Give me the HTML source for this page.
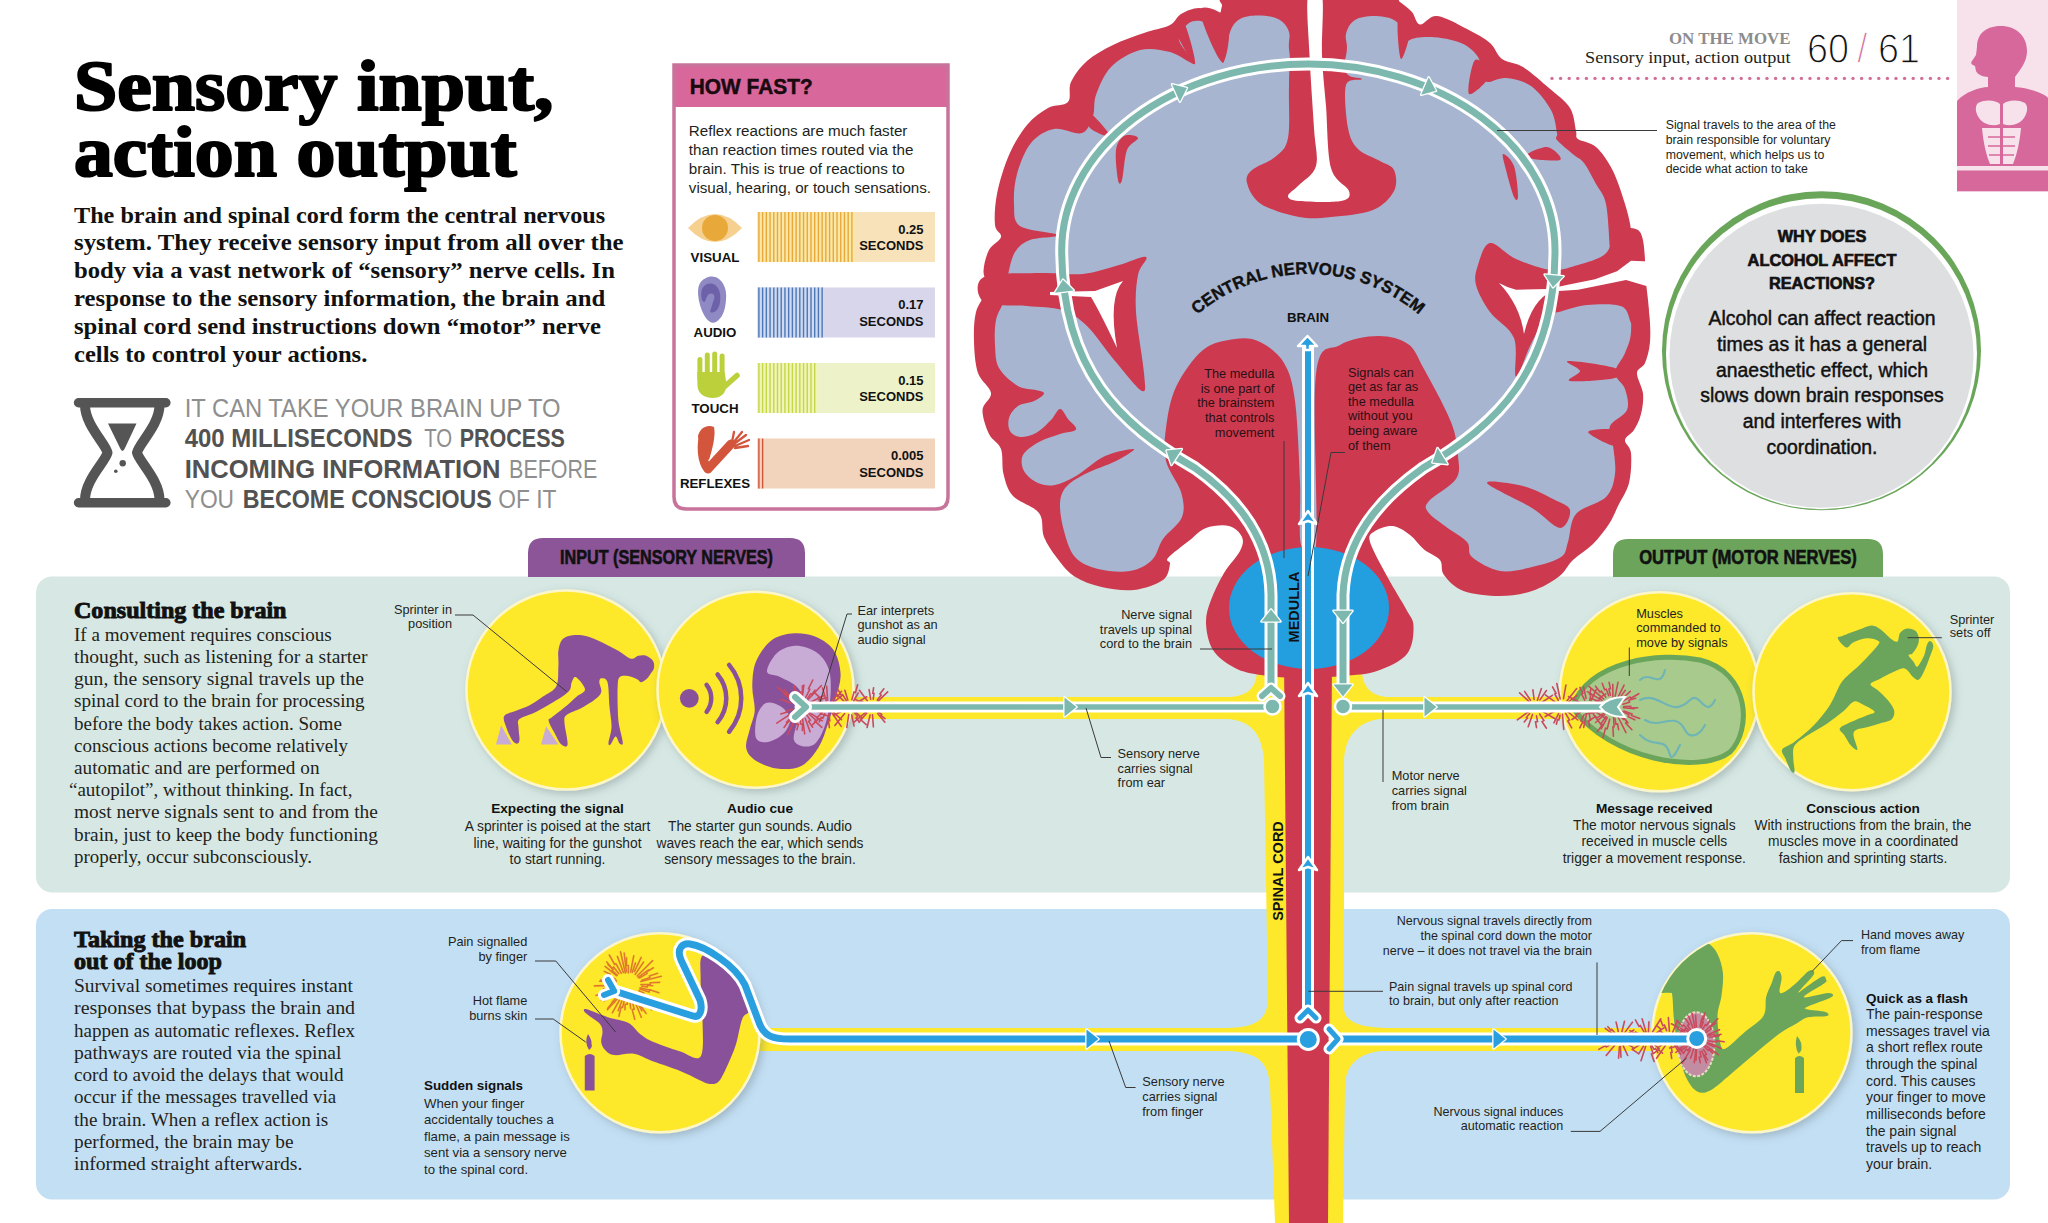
<!DOCTYPE html><html><head><meta charset="utf-8"><style>html,body{margin:0;padding:0;background:#fff;overflow:hidden;width:2048px;height:1223px}svg{display:block}</style></head><body><svg width="2048" height="1223" viewBox="0 0 2048 1223"><rect x="36" y="576.5" width="1974" height="316" rx="16" fill="#d7e8e4"/>
<rect x="36" y="909" width="1974" height="290.5" rx="16" fill="#c3dff4"/>
<path d="M528,577 V553 Q528,538 543,538 H790 Q805,538 805,553 V577 Z" fill="#8b5597"/>
<path d="M1613,577 V554 Q1613,539 1628,539 H1868 Q1883,539 1883,554 V577 Z" fill="#6ba45a"/>
<path d="M1226,697 C1245,697 1256,690 1257,672 L1362,672 C1363,690 1375,697 1390,697 L1612,697 L1612,719 L1380,719 C1360,721 1345,735 1344,760 L1344,1010 C1346,1022 1360,1028 1390,1028 L1700,1028 L1700,1051 L1380,1051 C1358,1054 1346,1065 1345,1085 L1343,1223 L1275,1223 L1270,1085 C1268,1062 1258,1053 1230,1051 L760,1051 L760,1028 L1225,1028 C1255,1028 1267,1020 1268,1000 L1264,760 C1262,735 1252,720 1226,719 L800,719 L800,697 Z" fill="#fde82b"/>
<path d="M1284,660 L1332,660 L1328,1223 L1289,1223 Z" fill="#cd3a4f"/>
<path d="M1340.0,-5.0 C1330.8,-5.0 1318.0,-5.3 1299.0,-5.0 C1280.0,-4.7 1238.8,-4.8 1226.0,-3.0 C1213.2,-1.2 1223.3,3.2 1222.0,6.0 C1220.7,8.8 1221.8,13.7 1218.0,14.0 C1214.2,14.3 1205.2,8.0 1199.0,8.0 C1192.8,8.0 1185.8,11.2 1181.0,14.0 C1176.2,16.8 1176.2,21.8 1170.0,25.0 C1163.8,28.2 1153.5,29.7 1144.0,33.0 C1134.5,36.3 1122.5,40.3 1113.0,45.0 C1103.5,49.7 1094.0,54.8 1087.0,61.0 C1080.0,67.2 1074.2,75.2 1071.0,82.0 C1067.8,88.8 1071.8,97.7 1068.0,102.0 C1064.2,106.3 1054.8,104.2 1048.0,108.0 C1041.2,111.8 1033.5,117.2 1027.0,125.0 C1020.5,132.8 1014.0,143.5 1009.0,155.0 C1004.0,166.5 999.3,182.3 997.0,194.0 C994.7,205.7 994.3,217.8 995.0,225.0 C995.7,232.2 1002.0,232.8 1001.0,237.0 C1000.0,241.2 991.9,244.3 989.0,250.0 C986.1,255.7 983.8,264.5 983.5,271.0 C983.2,277.5 988.2,282.2 987.0,289.0 C985.8,295.8 978.2,303.2 976.0,312.0 C973.8,320.8 973.7,331.8 974.0,342.0 C974.3,352.2 975.2,364.5 978.0,373.0 C980.8,381.5 990.2,386.8 991.0,393.0 C991.8,399.2 982.8,403.2 982.5,410.0 C982.2,416.8 985.9,427.5 989.0,434.0 C992.1,440.5 998.6,442.3 1001.0,449.0 C1003.4,455.7 1001.5,466.2 1003.5,474.0 C1005.5,481.8 1007.1,489.5 1013.0,496.0 C1018.9,502.5 1033.8,506.2 1039.0,513.0 C1044.2,519.8 1041.0,529.5 1044.0,537.0 C1047.0,544.5 1051.9,551.4 1057.0,558.0 C1062.1,564.6 1067.1,571.7 1074.5,576.5 C1081.9,581.3 1091.6,584.8 1101.5,587.0 C1111.4,589.2 1123.8,591.2 1134.0,590.0 C1144.2,588.8 1157.0,584.3 1163.0,580.0 C1169.0,575.7 1169.2,567.7 1170.0,564.0 C1170.8,560.3 1164.7,562.0 1168.0,558.0 C1171.3,554.0 1183.7,545.0 1190.0,540.0 C1196.3,535.0 1199.5,530.3 1206.0,528.0 C1212.5,525.7 1223.0,524.5 1229.0,526.0 C1235.0,527.5 1240.2,532.8 1242.0,537.0 C1243.8,541.2 1243.0,545.0 1240.0,551.0 C1237.0,557.0 1228.8,564.8 1224.0,573.0 C1219.2,581.2 1214.0,591.7 1211.0,600.0 C1208.0,608.3 1205.7,614.7 1206.0,623.0 C1206.3,631.3 1208.2,642.5 1213.0,650.0 C1217.8,657.5 1227.0,663.8 1235.0,668.0 C1243.0,672.2 1250.2,673.3 1261.0,675.0 C1271.8,676.7 1286.3,677.8 1300.0,678.0 C1313.7,678.2 1330.2,677.2 1343.0,676.0 C1355.8,674.8 1366.3,674.7 1377.0,671.0 C1387.7,667.3 1400.9,661.5 1407.0,654.0 C1413.1,646.5 1413.7,633.5 1413.5,626.0 C1413.3,618.5 1410.2,617.0 1406.0,609.0 C1401.8,601.0 1394.0,589.2 1388.0,578.0 C1382.0,566.8 1372.2,549.8 1370.0,542.0 C1367.8,534.2 1371.2,533.7 1375.0,531.0 C1378.8,528.3 1387.2,525.3 1393.0,526.0 C1398.8,526.7 1404.8,531.1 1410.0,535.0 C1415.2,538.9 1419.0,545.3 1424.0,549.5 C1429.0,553.7 1436.7,555.8 1440.0,560.0 C1443.3,564.2 1440.1,569.8 1444.0,575.0 C1447.9,580.2 1454.2,587.5 1463.5,591.0 C1472.8,594.5 1488.1,596.0 1499.5,596.0 C1510.9,596.0 1522.1,594.2 1532.0,591.0 C1541.9,587.8 1552.2,581.7 1559.0,576.5 C1565.8,571.3 1567.3,565.4 1573.0,560.0 C1578.7,554.6 1587.0,550.0 1593.0,544.0 C1599.0,538.0 1604.8,530.3 1609.0,524.0 C1613.2,517.7 1614.7,512.8 1618.0,506.0 C1621.3,499.2 1626.8,491.8 1629.0,483.0 C1631.2,474.2 1631.7,460.2 1631.0,453.0 C1630.3,445.8 1624.5,443.8 1625.0,440.0 C1625.5,436.2 1631.3,434.3 1634.0,430.0 C1636.7,425.7 1639.5,420.1 1641.0,414.0 C1642.5,407.9 1643.7,400.3 1643.0,393.5 C1642.3,386.7 1636.7,378.1 1637.0,373.0 C1637.3,367.9 1642.8,368.2 1645.0,363.0 C1647.2,357.8 1649.3,350.5 1650.0,342.0 C1650.7,333.5 1650.2,320.8 1649.0,312.0 C1647.8,303.2 1646.0,294.2 1643.0,289.0 C1640.0,283.8 1635.7,282.7 1631.0,281.0 C1626.3,279.3 1616.7,280.7 1615.0,279.0 C1613.3,277.3 1618.7,276.5 1621.0,271.0 C1623.3,265.5 1627.3,252.8 1629.0,246.0 C1630.7,239.2 1631.7,237.0 1631.0,230.0 C1630.3,223.0 1628.1,214.0 1625.0,204.0 C1621.9,194.0 1617.3,179.5 1612.5,170.0 C1607.7,160.5 1601.8,152.2 1596.0,147.0 C1590.2,141.8 1581.3,141.7 1578.0,139.0 C1574.7,136.3 1577.3,136.2 1576.0,131.0 C1574.7,125.8 1574.5,115.2 1570.0,108.0 C1565.5,100.8 1556.8,94.8 1549.0,88.0 C1541.2,81.2 1530.8,71.8 1523.0,67.0 C1515.2,62.2 1507.5,63.0 1502.0,59.0 C1496.5,55.0 1495.8,48.0 1490.0,43.0 C1484.2,38.0 1475.8,33.5 1467.0,29.0 C1458.2,24.5 1444.8,16.8 1437.0,16.0 C1429.2,15.2 1424.2,25.2 1420.0,24.5 C1415.8,23.8 1415.3,15.8 1412.0,12.0 C1408.7,8.2 1403.0,4.5 1400.0,2.0 C1397.0,-0.5 1401.7,-1.8 1394.0,-3.0 C1386.3,-4.2 1363.0,-4.7 1354.0,-5.0 C1345.0,-5.3 1349.2,-5.0 1340.0,-5.0Z" fill="#cd3a4f"/>
<path d="M1318.0,140.0 C1309.0,140.0 1295.8,78.0 1291.0,60.0 C1286.2,42.0 1291.2,38.8 1289.0,32.0 C1286.8,25.2 1283.2,21.8 1278.0,19.0 C1272.8,16.2 1264.3,15.5 1258.0,15.5 C1251.7,15.5 1244.7,16.2 1240.0,19.0 C1235.3,21.8 1232.8,24.7 1230.0,32.0 C1227.2,39.3 1225.3,62.7 1223.0,63.0 C1220.7,63.3 1219.2,40.8 1216.0,34.0 C1212.8,27.2 1208.5,23.8 1204.0,22.0 C1199.5,20.2 1193.2,20.0 1189.0,23.0 C1184.8,26.0 1178.0,33.2 1179.0,40.0 C1180.0,46.8 1196.5,62.0 1195.0,64.0 C1193.5,66.0 1179.2,54.3 1170.0,52.0 C1160.8,49.7 1149.8,47.5 1140.0,50.0 C1130.2,52.5 1118.3,59.5 1111.0,67.0 C1103.7,74.5 1099.0,86.8 1096.0,95.0 C1093.0,103.2 1095.3,109.7 1093.0,116.0 C1090.7,122.3 1088.5,130.8 1082.0,133.0 C1075.5,135.2 1062.5,127.3 1054.0,129.0 C1045.5,130.7 1037.2,135.5 1031.0,143.0 C1024.8,150.5 1019.8,163.8 1017.0,174.0 C1014.2,184.2 1013.5,195.3 1014.0,204.0 C1014.5,212.7 1012.7,220.8 1020.0,226.0 C1027.3,231.2 1056.3,232.7 1058.0,235.0 C1059.7,237.3 1037.2,237.2 1030.0,240.0 C1022.8,242.8 1018.7,246.2 1015.0,252.0 C1011.3,257.8 1009.8,267.0 1008.0,275.0 C1006.2,283.0 1006.0,292.5 1004.0,300.0 C1002.0,307.5 997.5,312.5 996.0,320.0 C994.5,327.5 994.5,337.0 995.0,345.0 C995.5,353.0 995.2,361.2 999.0,368.0 C1002.8,374.8 1011.8,382.3 1018.0,386.0 C1024.2,389.7 1031.7,388.8 1036.0,390.0 C1040.3,391.2 1044.3,391.6 1044.0,393.4 C1043.7,395.2 1038.3,398.9 1034.0,401.0 C1029.7,403.1 1022.2,403.2 1018.0,406.0 C1013.8,408.8 1010.3,413.8 1009.0,418.0 C1007.7,422.2 1008.2,427.8 1010.0,431.0 C1011.8,434.2 1015.7,436.7 1020.0,437.0 C1024.3,437.3 1030.8,435.8 1036.0,433.0 C1041.2,430.2 1047.0,424.0 1051.0,420.0 C1055.0,416.0 1057.2,409.2 1060.0,409.0 C1062.8,408.8 1065.3,415.6 1068.0,419.0 C1070.7,422.4 1077.3,427.0 1076.0,429.5 C1074.7,432.0 1066.2,431.9 1060.0,434.0 C1053.8,436.1 1045.2,438.5 1039.0,442.0 C1032.8,445.5 1025.5,450.2 1023.0,455.0 C1020.5,459.8 1021.5,466.3 1024.0,471.0 C1026.5,475.7 1032.8,480.7 1038.0,483.0 C1043.2,485.3 1048.7,486.2 1055.0,485.0 C1061.3,483.8 1067.7,480.8 1076.0,476.0 C1084.3,471.2 1095.3,460.5 1105.0,456.0 C1114.7,451.5 1132.2,448.2 1134.0,449.0 C1135.8,449.8 1124.2,456.8 1116.0,461.0 C1107.8,465.2 1093.3,469.7 1085.0,474.0 C1076.7,478.3 1070.2,482.0 1066.0,487.0 C1061.8,492.0 1060.3,496.7 1060.0,504.0 C1059.7,511.3 1061.5,522.2 1064.0,531.0 C1066.5,539.8 1069.3,550.7 1075.0,557.0 C1080.7,563.3 1088.8,566.7 1098.0,569.0 C1107.2,571.3 1121.0,572.5 1130.0,571.0 C1139.0,569.5 1146.5,565.3 1152.0,560.0 C1157.5,554.7 1158.0,546.2 1163.0,539.0 C1168.0,531.8 1179.0,524.8 1182.0,517.0 C1185.0,509.2 1183.7,501.3 1181.0,492.0 C1178.3,482.7 1168.5,471.7 1166.0,461.0 C1163.5,450.3 1164.3,440.3 1166.0,428.0 C1167.7,415.7 1169.8,400.0 1176.0,387.0 C1182.2,374.0 1193.2,358.0 1203.0,350.0 C1212.8,342.0 1225.5,340.3 1235.0,339.0 C1244.5,337.7 1251.8,338.0 1260.0,342.0 C1268.2,346.0 1278.2,353.2 1284.0,363.0 C1289.8,372.8 1292.3,381.2 1295.0,401.0 C1297.7,420.8 1299.0,458.0 1300.0,482.0 C1301.0,506.0 1298.3,534.5 1301.0,545.0 C1303.7,555.5 1313.5,573.5 1316.0,545.0 C1318.5,516.5 1312.0,407.3 1316.0,374.0 C1320.0,340.7 1329.7,351.3 1340.0,345.0 C1350.3,338.7 1366.7,336.2 1378.0,336.0 C1389.3,335.8 1400.3,338.5 1408.0,344.0 C1415.7,349.5 1416.8,356.0 1424.0,369.0 C1431.2,382.0 1445.3,407.5 1451.0,422.0 C1456.7,436.5 1457.2,446.5 1458.0,456.0 C1458.8,465.5 1460.8,471.5 1456.0,479.0 C1451.2,486.5 1433.7,495.5 1429.0,501.0 C1424.3,506.5 1425.3,507.8 1428.0,512.0 C1430.7,516.2 1438.5,521.0 1445.0,526.0 C1451.5,531.0 1462.5,536.8 1467.0,542.0 C1471.5,547.2 1466.5,552.2 1472.0,557.0 C1477.5,561.8 1490.0,569.3 1500.0,571.0 C1510.0,572.7 1521.8,569.3 1532.0,567.0 C1542.2,564.7 1555.0,561.2 1561.0,557.0 C1567.0,552.8 1565.5,549.2 1568.0,542.0 C1570.5,534.8 1569.7,521.5 1576.0,514.0 C1582.3,506.5 1599.5,503.7 1606.0,497.0 C1612.5,490.3 1613.8,482.7 1615.0,474.0 C1616.2,465.3 1613.8,453.0 1613.0,445.0 C1612.2,437.0 1607.7,431.8 1610.0,426.0 C1612.3,420.2 1624.5,416.2 1627.0,410.0 C1629.5,403.8 1627.0,395.2 1625.0,389.0 C1623.0,382.8 1615.0,379.0 1615.0,373.0 C1615.0,367.0 1622.3,359.8 1625.0,353.0 C1627.7,346.2 1630.5,340.8 1631.0,332.0 C1631.5,323.2 1631.2,310.3 1628.0,300.0 C1624.8,289.7 1615.0,278.3 1612.0,270.0 C1609.0,261.7 1611.0,261.0 1610.0,250.0 C1609.0,239.0 1608.3,215.0 1606.0,204.0 C1603.7,193.0 1599.7,190.8 1596.0,184.0 C1592.3,177.2 1587.7,167.8 1584.0,163.0 C1580.3,158.2 1578.5,158.8 1574.0,155.0 C1569.5,151.2 1559.8,143.7 1557.0,140.0 C1554.2,136.3 1558.0,138.0 1557.0,133.0 C1556.0,128.0 1555.3,117.8 1551.0,110.0 C1546.7,102.2 1538.5,91.3 1531.0,86.0 C1523.5,80.7 1513.2,78.7 1506.0,78.0 C1498.8,77.3 1492.0,82.3 1488.0,82.0 C1484.0,81.7 1483.7,80.2 1482.0,76.0 C1480.3,71.8 1481.5,62.5 1478.0,57.0 C1474.5,51.5 1468.8,46.3 1461.0,43.0 C1453.2,39.7 1439.8,37.3 1431.0,37.0 C1422.2,36.7 1413.0,37.3 1408.0,41.0 C1403.0,44.7 1401.7,60.2 1401.0,59.0 C1400.3,57.8 1405.2,40.5 1404.0,34.0 C1402.8,27.5 1399.0,23.0 1394.0,20.0 C1389.0,17.0 1380.5,16.0 1374.0,16.0 C1367.5,16.0 1359.7,17.0 1355.0,20.0 C1350.3,23.0 1347.7,27.3 1346.0,34.0 C1344.3,40.7 1349.7,42.3 1345.0,60.0 C1340.3,77.7 1327.0,140.0 1318.0,140.0Z" fill="#a7b5d0"/>
<path d="M1326.0,-5.0 C1317.8,-5.0 1296.8,-9.3 1291.0,-5.0 C1285.2,-0.7 1291.3,6.0 1291.0,21.0 C1290.7,36.0 1289.5,65.5 1289.0,85.0 C1288.5,104.5 1290.3,126.0 1288.0,138.0 C1285.7,150.0 1281.0,151.7 1275.0,157.0 C1269.0,162.3 1256.7,165.7 1252.0,170.0 C1247.3,174.3 1245.5,177.3 1247.0,183.0 C1248.5,188.7 1252.3,198.3 1261.0,204.0 C1269.7,209.7 1287.3,214.8 1299.0,217.0 C1310.7,219.2 1318.7,218.2 1331.0,217.0 C1343.3,215.8 1362.5,214.3 1373.0,210.0 C1383.5,205.7 1390.5,197.7 1394.0,191.0 C1397.5,184.3 1396.3,175.0 1394.0,170.0 C1391.7,165.0 1386.0,164.5 1380.0,161.0 C1374.0,157.5 1363.3,154.5 1358.0,149.0 C1352.7,143.5 1350.0,138.7 1348.0,128.0 C1346.0,117.3 1343.7,93.2 1346.0,85.0 C1348.3,76.8 1362.0,81.2 1362.0,79.0 C1362.0,76.8 1348.8,79.8 1346.0,72.0 C1343.2,64.2 1346.0,44.8 1345.0,32.0 C1344.0,19.2 1343.2,1.2 1340.0,-5.0 C1336.8,-11.2 1334.2,-5.0 1326.0,-5.0Z" fill="#cd3a4f"/>
<path d="M1308.0,-5.0 C1305.9,5.0 1308.5,32.8 1309.5,55.0 C1310.5,77.2 1312.9,109.5 1314.0,128.0 C1315.1,146.5 1318.5,156.5 1316.0,166.0 C1313.5,175.5 1303.7,180.0 1299.0,185.0 C1294.3,190.0 1288.0,193.3 1288.0,196.0 C1288.0,198.7 1290.2,200.2 1299.0,201.0 C1307.8,201.8 1332.7,202.7 1341.0,201.0 C1349.3,199.3 1350.7,196.5 1349.0,191.0 C1347.3,185.5 1334.8,182.2 1331.0,168.0 C1327.2,153.8 1327.5,124.8 1326.0,106.0 C1324.5,87.2 1322.7,73.5 1322.0,55.0 C1321.3,36.5 1324.3,5.0 1322.0,-5.0 C1319.7,-15.0 1310.1,-15.0 1308.0,-5.0Z" fill="#fff"/>
<path d="M984.0,277.0 C993.7,272.2 1025.5,273.5 1042.0,273.0 C1058.5,272.5 1070.2,275.3 1083.0,274.0 C1095.8,272.7 1108.5,267.8 1119.0,265.0 C1129.5,262.2 1142.8,255.3 1146.0,257.0 C1149.2,258.7 1139.7,265.8 1138.0,275.0 C1136.3,284.2 1135.0,295.7 1136.0,312.0 C1137.0,328.3 1143.0,359.8 1144.0,373.0 C1145.0,386.2 1146.8,393.0 1142.0,391.0 C1137.2,389.0 1124.2,371.8 1115.0,361.0 C1105.8,350.2 1095.8,334.5 1087.0,326.0 C1078.2,317.5 1072.0,313.3 1062.0,310.0 C1052.0,306.7 1040.0,307.3 1027.0,306.0 C1014.0,304.7 991.2,306.8 984.0,302.0 C976.8,297.2 974.3,281.8 984.0,277.0Z" fill="#cd3a4f"/>
<path d="M1050,292 L1095,291 L1123,281 Q1108,298 1117,348 Q1100,312 1091,297 L1050,295 Z" fill="#fff"/>
<path d="M1640.0,232.0 C1634.2,223.7 1615.7,230.7 1611.0,232.0 C1606.3,233.3 1613.2,236.2 1612.0,240.0 C1610.8,243.8 1609.7,250.8 1604.0,255.0 C1598.3,259.2 1586.8,262.5 1578.0,265.0 C1569.2,267.5 1561.3,271.0 1551.0,270.0 C1540.7,269.0 1526.2,263.5 1516.0,259.0 C1505.8,254.5 1496.3,242.0 1490.0,243.0 C1483.7,244.0 1480.3,258.0 1478.0,265.0 C1475.7,272.0 1474.0,277.2 1476.0,285.0 C1478.0,292.8 1483.7,303.2 1490.0,312.0 C1496.3,320.8 1509.7,327.2 1514.0,338.0 C1518.3,348.8 1513.2,376.0 1516.0,377.0 C1518.8,378.0 1525.8,354.2 1531.0,344.0 C1536.2,333.8 1542.3,321.3 1547.0,316.0 C1551.7,310.7 1552.3,313.8 1559.0,312.0 C1565.7,310.2 1576.5,305.9 1587.0,305.0 C1597.5,304.1 1614.3,303.2 1622.0,306.5 C1629.7,309.8 1628.7,323.1 1633.0,325.0 C1637.3,326.9 1645.8,325.2 1648.0,318.0 C1650.2,310.8 1647.3,296.3 1646.0,282.0 C1644.7,267.7 1645.8,240.3 1640.0,232.0Z" fill="#cd3a4f"/>
<path d="M1499,283 Q1508,288 1516,289.8 L1548,289 L1569,284.5 L1595,279.2 L1617,271.3 L1631,260.8 L1660,262 L1660,290 L1626,280 L1604,284.5 L1578,289.8 L1551.5,291.5 Q1532,300 1524,334 Q1520,305 1499,283 Z" fill="#fff"/>
<path d="M1124.0,136.0 C1127.7,134.0 1137.5,135.7 1138.0,138.0 C1138.5,140.3 1129.7,143.0 1127.0,150.0 C1124.3,157.0 1123.5,175.0 1122.0,180.0 C1120.5,185.0 1119.0,185.0 1118.0,180.0 C1117.0,175.0 1115.0,157.3 1116.0,150.0 C1117.0,142.7 1120.3,138.0 1124.0,136.0Z" fill="#cd3a4f"/>
<path d="M1503.0,154.0 C1504.3,153.3 1511.5,159.0 1514.0,166.0 C1516.5,173.0 1518.0,190.8 1518.0,196.0 C1518.0,201.2 1516.0,201.3 1514.0,197.0 C1512.0,192.7 1507.8,177.2 1506.0,170.0 C1504.2,162.8 1501.7,154.7 1503.0,154.0Z" fill="#cd3a4f"/>
<path d="M1560.0,528.0 C1553.7,527.7 1544.2,515.5 1532.0,508.0 C1519.8,500.5 1488.5,486.7 1487.0,483.0 C1485.5,479.3 1512.0,483.3 1523.0,486.0 C1534.0,488.7 1545.2,495.0 1553.0,499.0 C1560.8,503.0 1568.8,505.2 1570.0,510.0 C1571.2,514.8 1566.3,528.3 1560.0,528.0Z" fill="#cd3a4f"/>
<path d="M1615.0,368.0 C1607.2,365.2 1573.8,360.5 1568.0,361.0 C1562.2,361.5 1579.7,367.7 1580.0,371.0 C1580.3,374.3 1564.2,379.8 1570.0,381.0 C1575.8,382.2 1607.5,380.2 1615.0,378.0 C1622.5,375.8 1622.8,370.8 1615.0,368.0Z" fill="#cd3a4f"/>
<path d="M1615.0,430.0 C1610.5,427.7 1588.0,429.3 1588.0,432.0 C1588.0,434.7 1610.5,446.3 1615.0,446.0 C1619.5,445.7 1619.5,432.3 1615.0,430.0Z" fill="#cd3a4f"/>
<path d="M1200.0,10.0 C1199.0,17.0 1217.3,60.3 1222.0,62.0 C1226.7,63.7 1231.7,28.7 1228.0,20.0 C1224.3,11.3 1201.0,3.0 1200.0,10.0Z" fill="#cd3a4f"/>
<path d="M1175.0,30.0 C1176.7,36.5 1193.3,64.8 1195.0,64.0 C1196.7,63.2 1188.3,30.7 1185.0,25.0 C1181.7,19.3 1173.3,23.5 1175.0,30.0Z" fill="#cd3a4f"/>
<path d="M1398.0,20.0 C1396.5,24.8 1399.0,57.3 1401.0,59.0 C1403.0,60.7 1410.5,36.5 1410.0,30.0 C1409.5,23.5 1399.5,15.2 1398.0,20.0Z" fill="#cd3a4f"/>
<path d="M1475.0,60.0 C1471.5,63.2 1466.5,91.5 1469.0,94.0 C1471.5,96.5 1489.0,80.7 1490.0,75.0 C1491.0,69.3 1478.5,56.8 1475.0,60.0Z" fill="#cd3a4f"/>
<path d="M1547.0,147.0 C1541.2,146.5 1522.8,154.8 1525.0,157.0 C1527.2,159.2 1556.3,161.7 1560.0,160.0 C1563.7,158.3 1552.8,147.5 1547.0,147.0Z" fill="#cd3a4f"/>
<path d="M1090.0,113.0 C1093.3,114.3 1110.0,133.5 1110.0,136.0 C1110.0,138.5 1093.3,131.8 1090.0,128.0 C1086.7,124.2 1086.7,111.7 1090.0,113.0Z" fill="#cd3a4f"/>
<ellipse cx="1309" cy="608" rx="80" ry="61" fill="#239fe0"/>
<path d="M1271,690 L1271,595 C1270,540 1240,500 1195,468 C1120,425 1062,370 1061.7,250 A246.65,186 0 0 1 1555,250 C1555,370 1497,425 1423,468 C1378,500 1345,540 1343,595 L1343,690" fill="none" stroke="#fff" stroke-width="13"/>
<path d="M1271,690 L1271,595 C1270,540 1240,500 1195,468 C1120,425 1062,370 1061.7,250 A246.65,186 0 0 1 1555,250 C1555,370 1497,425 1423,468 C1378,500 1345,540 1343,595 L1343,690" fill="none" stroke="#7db8ae" stroke-width="7"/>
<path d="M1308,345 L1308,1016" stroke="#fff" stroke-width="12" fill="none"/>
<path d="M1308,345 L1308,1016" stroke="#2a9fe0" stroke-width="6" fill="none"/>
<path transform="translate(1271,616) rotate(-90.0)" d="M6.5,0 L-5.5,-9.5 L-5.5,9.5 Z" fill="#7db8ae" stroke="#fff" stroke-width="2.6" stroke-linejoin="round" paint-order="stroke"/>
<path transform="translate(1172.0,454.0) rotate(-147.0)" d="M6.5,0 L-5.5,-9.5 L-5.5,9.5 Z" fill="#7db8ae" stroke="#fff" stroke-width="2.6" stroke-linejoin="round" paint-order="stroke"/>
<path transform="translate(1063.7,286.1) rotate(-96.5)" d="M6.5,0 L-5.5,-9.5 L-5.5,9.5 Z" fill="#7db8ae" stroke="#fff" stroke-width="2.6" stroke-linejoin="round" paint-order="stroke"/>
<path transform="translate(1181.0,90.7) rotate(-24.5)" d="M6.5,0 L-5.5,-9.5 L-5.5,9.5 Z" fill="#7db8ae" stroke="#fff" stroke-width="2.6" stroke-linejoin="round" paint-order="stroke"/>
<path transform="translate(1430.0,88.2) rotate(23.2)" d="M6.5,0 L-5.5,-9.5 L-5.5,9.5 Z" fill="#7db8ae" stroke="#fff" stroke-width="2.6" stroke-linejoin="round" paint-order="stroke"/>
<path transform="translate(1553.6,280.8) rotate(95.3)" d="M6.5,0 L-5.5,-9.5 L-5.5,9.5 Z" fill="#7db8ae" stroke="#fff" stroke-width="2.6" stroke-linejoin="round" paint-order="stroke"/>
<path transform="translate(1437.9,459.0) rotate(147.9)" d="M6.5,0 L-5.5,-9.5 L-5.5,9.5 Z" fill="#7db8ae" stroke="#fff" stroke-width="2.6" stroke-linejoin="round" paint-order="stroke"/>
<path transform="translate(1343,616.2) rotate(90.0)" d="M6.5,0 L-5.5,-9.5 L-5.5,9.5 Z" fill="#7db8ae" stroke="#fff" stroke-width="2.6" stroke-linejoin="round" paint-order="stroke"/>
<path d="M1307.5,336 L1317,346 L1310,346 L1310,350 L1305,350 L1305,346 L1298,346 Z" fill="#2a9fe0" stroke="#fff" stroke-width="2.5" stroke-linejoin="round"/>
<path transform="translate(1308,518) rotate(-90)" d="M7,0 L-6,-9 L-3,0 L-6,9 Z" fill="#2a9fe0" stroke="#fff" stroke-width="2.5" stroke-linejoin="round"/>
<path transform="translate(1308,690) rotate(-90)" d="M7,0 L-6,-9 L-3,0 L-6,9 Z" fill="#2a9fe0" stroke="#fff" stroke-width="2.5" stroke-linejoin="round"/>
<path transform="translate(1308,864) rotate(-90)" d="M7,0 L-6,-9 L-3,0 L-6,9 Z" fill="#2a9fe0" stroke="#fff" stroke-width="2.5" stroke-linejoin="round"/>
<defs><filter id="sh" x="-20%" y="-20%" width="140%" height="140%"><feDropShadow dx="3" dy="3" stdDeviation="4" flood-color="#5a6a70" flood-opacity="0.35"/></filter><clipPath id="c3"><circle cx="1659.5" cy="691.7" r="99"/></clipPath><clipPath id="c6"><circle cx="1752" cy="1032.7" r="99"/></clipPath></defs>
<circle cx="566" cy="690" r="99.5" fill="#fde82b" stroke="#fdf7c8" stroke-width="2.5" filter="url(#sh)"/>
<circle cx="755.5" cy="689.7" r="98" fill="#fde82b" stroke="#fdf7c8" stroke-width="2.5" filter="url(#sh)"/>
<circle cx="1659.5" cy="691.7" r="99.5" fill="#fde82b" stroke="#fdf7c8" stroke-width="2.5" filter="url(#sh)"/>
<circle cx="1852" cy="691.7" r="98.5" fill="#fde82b" stroke="#fdf7c8" stroke-width="2.5" filter="url(#sh)"/>
<circle cx="660" cy="1032.7" r="99.5" fill="#fde82b" stroke="#fdf7c8" stroke-width="2.5" filter="url(#sh)"/>
<circle cx="1752" cy="1032.7" r="99.5" fill="#fde82b" stroke="#fdf7c8" stroke-width="2.5" filter="url(#sh)"/>
<path d="M558.4,650.6 C559.1,646.2 560.1,641.9 562.5,639.3 C564.9,636.7 568.6,635.7 572.7,635.2 C576.8,634.7 582.1,635.0 587.0,636.2 C591.9,637.4 597.2,640.0 602.3,642.4 C607.4,644.8 612.9,647.9 617.7,650.6 C622.5,653.3 627.6,657.9 631.0,658.7 C634.4,659.6 635.6,656.2 638.1,655.7 C640.6,655.2 643.8,654.9 646.3,655.7 C648.8,656.6 651.6,658.8 652.9,660.8 C654.2,662.8 654.4,665.7 654.0,667.9 C653.6,670.1 651.5,672.4 650.4,674.1 C649.3,675.8 648.8,676.9 647.3,678.2 C645.8,679.6 642.9,682.0 641.2,682.2 C639.5,682.4 639.3,680.2 637.1,679.2 C634.9,678.2 630.8,676.5 627.9,676.1 C625.0,675.8 621.4,675.4 619.7,677.1 C618.0,678.8 618.0,681.3 617.7,686.3 C617.4,691.2 617.5,700.7 617.7,706.8 C617.9,712.9 617.9,717.1 618.7,723.1 C619.6,729.1 622.6,739.2 622.8,742.6 C623.0,746.0 620.9,744.6 619.7,743.6 C618.5,742.6 617.1,736.2 615.6,736.4 C614.1,736.6 611.7,743.6 610.5,744.6 C609.3,745.6 608.3,745.5 608.5,742.6 C608.7,739.7 611.3,733.2 611.5,727.2 C611.7,721.2 610.2,714.3 609.5,706.8 C608.8,699.3 608.9,687.0 607.5,682.2 C606.1,677.4 602.7,678.2 601.3,678.2 C599.9,678.2 599.3,680.0 599.3,682.2 C599.3,684.4 601.8,688.7 601.3,691.4 C600.8,694.1 599.4,695.9 596.2,698.6 C593.0,701.3 586.8,705.1 581.9,707.8 C577.0,710.5 569.5,712.5 566.6,715.0 C563.7,717.5 564.3,718.2 564.5,723.1 C564.7,728.0 568.1,741.0 567.6,744.6 C567.1,748.2 563.5,746.3 561.4,744.6 C559.3,742.9 557.4,738.3 555.3,734.4 C553.2,730.5 549.2,724.0 548.7,721.1 C548.2,718.2 549.2,719.5 552.2,717.0 C555.2,714.5 562.5,709.2 566.6,705.8 C570.7,702.4 573.7,699.3 576.8,696.6 C579.9,693.9 585.2,692.6 585.0,689.4 C584.8,686.1 578.0,678.3 575.8,677.1 C573.6,675.9 572.9,679.8 571.7,682.2 C570.5,684.6 571.9,688.0 568.6,691.4 C565.4,694.8 557.7,699.3 552.2,702.7 C546.8,706.1 541.4,709.2 535.9,711.9 C530.4,714.6 522.4,716.5 519.5,719.1 C516.6,721.7 518.5,723.8 518.5,727.2 C518.5,730.6 519.7,736.8 519.5,739.5 C519.3,742.2 518.7,743.4 517.5,743.6 C516.3,743.8 514.3,743.2 512.4,740.5 C510.5,737.8 507.6,731.3 506.2,727.2 C504.8,723.1 502.7,718.7 504.2,716.0 C505.7,713.3 511.3,712.6 515.4,710.9 C519.5,709.2 524.1,708.2 528.7,705.8 C533.3,703.4 538.4,699.9 543.0,696.6 C547.6,693.4 553.7,691.4 556.3,686.3 C558.9,681.2 558.0,671.8 558.4,665.9 C558.8,660.0 557.7,655.0 558.4,650.6Z" fill="#8a519b"/>
<path d="M496,744.6 L501.1,725.2 L511.9,744.6 Z M541,744.6 L546.1,726.2 L558.4,744.6 Z" fill="#c8acd6"/>
<path d="M791.5,633.6 C798.6,632.8 806.6,633.4 813.6,636.0 C820.6,638.6 828.7,643.2 833.2,649.5 C837.7,655.8 840.2,665.8 840.6,674.0 C841.0,682.2 837.7,690.4 835.6,698.6 C833.5,706.8 831.1,714.9 828.3,723.1 C825.4,731.3 823.0,740.5 818.5,747.6 C814.0,754.8 808.2,762.5 801.3,766.0 C794.3,769.5 784.6,769.5 776.8,768.5 C769.0,767.5 759.8,763.4 754.7,759.9 C749.6,756.4 746.9,752.7 746.1,747.6 C745.3,742.5 748.4,735.3 749.8,729.2 C751.2,723.1 754.3,717.9 754.7,710.8 C755.1,703.6 752.1,694.5 752.3,686.3 C752.5,678.1 752.8,669.3 755.9,661.8 C759.0,654.2 764.8,645.7 770.7,641.0 C776.6,636.3 784.4,634.4 791.5,633.6Z" fill="#8a519b"/>
<path d="M767.0,671.6 C766.5,667.6 772.1,657.5 776.8,653.2 C781.5,648.9 788.7,646.0 795.2,645.8 C801.7,645.6 810.5,648.3 816.0,652.0 C821.5,655.7 825.8,661.2 828.3,667.9 C830.8,674.6 831.1,683.2 830.7,692.4 C830.3,701.6 828.2,714.7 825.8,723.1 C823.3,731.5 819.7,738.8 816.0,742.7 C812.3,746.6 807.5,746.8 803.8,746.4 C800.1,746.0 795.1,744.0 794.0,740.3 C792.9,736.6 795.2,729.4 797.0,724.0 C798.8,718.6 804.8,714.0 805.0,708.0 C805.2,702.0 802.2,693.2 798.0,688.0 C793.8,682.8 785.2,679.7 780.0,677.0 C774.8,674.3 767.5,675.6 767.0,671.6Z" fill="#c8acd6"/>
<path d="M756.0,738.0 C754.2,733.7 755.3,721.8 757.0,716.0 C758.7,710.2 762.2,704.7 766.0,703.0 C769.8,701.3 776.0,703.5 780.0,706.0 C784.0,708.5 789.3,713.5 790.0,718.0 C790.7,722.5 787.7,729.0 784.0,733.0 C780.3,737.0 772.7,741.2 768.0,742.0 C763.3,742.8 757.8,742.3 756.0,738.0Z" fill="#c8acd6"/>
<circle cx="689.3" cy="698.3" r="9.4" fill="#8a519b"/>
<path d="M706.6,684.8 A22,22 0 0 1 706.6,711.8" fill="none" stroke="#8a519b" stroke-width="4.5" stroke-linecap="round"/>
<path d="M717.6,674.5 A37,37 0 0 1 717.6,722.1" fill="none" stroke="#8a519b" stroke-width="4.5" stroke-linecap="round"/>
<path d="M729.1,664.9 A52,52 0 0 1 729.1,731.7" fill="none" stroke="#8a519b" stroke-width="4.5" stroke-linecap="round"/>
<g clip-path="url(#c3)"><path d="M1572,707 C1590,660 1660,652 1700,660 C1750,672 1752,730 1730,752 C1700,775 1610,760 1572,707 Z" fill="#a9ca8d" stroke="#6aa55b" stroke-width="5"/></g>
<path d="M1640,680 C1650,670 1660,690 1665,670" fill="none" stroke="#6fb5b5" stroke-width="2.2" stroke-linecap="round"/>
<path d="M1640,700 C1660,690 1670,720 1690,700 C1700,690 1705,720 1715,700" fill="none" stroke="#6fb5b5" stroke-width="2.2" stroke-linecap="round"/>
<path d="M1645,720 C1660,730 1675,710 1685,730 C1690,740 1700,735 1705,725" fill="none" stroke="#6fb5b5" stroke-width="2.2" stroke-linecap="round"/>
<path d="M1640,735 C1655,750 1665,735 1670,755 C1672,760 1675,755 1680,745" fill="none" stroke="#6fb5b5" stroke-width="2.2" stroke-linecap="round"/>
<path d="M1837.8,638.3 C1837.2,636.3 1839.5,637.1 1843.0,635.7 C1846.5,634.3 1853.9,631.5 1858.7,629.8 C1863.5,628.1 1868.1,625.5 1871.8,625.5 C1875.5,625.5 1877.9,627.7 1881.0,629.8 C1884.1,631.9 1887.5,636.3 1890.2,638.3 C1892.9,640.3 1895.8,642.5 1897.4,641.6 C1899.0,640.7 1898.4,635.3 1900.0,633.1 C1901.6,630.9 1904.6,628.8 1907.2,628.5 C1909.8,628.2 1913.8,629.4 1915.7,631.1 C1917.7,632.9 1918.7,636.4 1918.9,639.0 C1919.1,641.6 1918.1,644.4 1917.0,646.8 C1915.9,649.2 1913.8,652.0 1912.4,653.4 C1911.0,654.8 1908.3,653.9 1908.5,655.3 C1908.7,656.7 1912.2,660.0 1913.7,661.9 C1915.2,663.8 1915.8,667.6 1917.6,666.5 C1919.3,665.4 1922.7,658.9 1924.2,655.3 C1925.7,651.7 1925.8,647.3 1926.8,644.9 C1927.8,642.5 1929.0,640.7 1930.1,640.9 C1931.2,641.1 1933.4,643.4 1933.3,646.2 C1933.2,649.0 1930.9,653.8 1929.4,657.9 C1927.9,662.0 1926.0,667.4 1924.2,671.0 C1922.5,674.6 1920.7,678.4 1918.9,679.5 C1917.2,680.6 1916.1,679.5 1913.7,677.6 C1911.3,675.8 1908.0,669.3 1904.5,668.4 C1901.0,667.5 1896.9,670.5 1892.8,672.3 C1888.7,674.0 1883.4,676.9 1879.7,678.9 C1876.0,680.9 1870.7,682.1 1870.5,684.1 C1870.3,686.1 1875.6,688.1 1878.4,690.7 C1881.2,693.3 1884.9,696.5 1887.5,699.8 C1890.1,703.1 1893.4,707.0 1894.1,710.3 C1894.8,713.6 1893.9,717.3 1891.5,719.5 C1889.1,721.7 1883.9,722.1 1879.7,723.4 C1875.5,724.7 1870.5,726.2 1866.6,727.3 C1862.7,728.4 1858.3,728.6 1856.1,729.9 C1853.9,731.2 1853.3,731.9 1853.5,735.2 C1853.7,738.5 1857.8,747.8 1857.4,749.5 C1857.0,751.2 1853.1,748.0 1850.9,745.6 C1848.7,743.2 1846.2,738.0 1844.4,735.2 C1842.6,732.4 1838.7,730.8 1839.8,728.6 C1840.9,726.4 1846.4,724.3 1850.9,722.1 C1855.4,719.9 1862.7,717.2 1866.6,715.5 C1870.5,713.8 1875.4,713.6 1874.5,711.6 C1873.6,709.6 1864.9,705.3 1861.4,703.7 C1857.9,702.1 1856.6,700.5 1853.5,701.8 C1850.4,703.1 1847.4,708.0 1843.0,711.6 C1838.6,715.2 1833.2,719.5 1827.3,723.4 C1821.4,727.3 1813.2,731.5 1807.7,735.2 C1802.2,738.9 1797.0,741.7 1794.6,745.6 C1792.2,749.5 1793.3,754.3 1793.3,758.7 C1793.3,763.1 1795.0,769.8 1794.6,771.8 C1794.2,773.8 1792.2,772.7 1790.7,770.5 C1789.2,768.3 1786.9,762.2 1785.5,758.7 C1784.1,755.2 1780.7,752.3 1782.2,749.5 C1783.7,746.7 1789.2,745.8 1794.6,741.7 C1799.9,737.6 1808.4,730.8 1814.3,724.7 C1820.2,718.6 1825.7,711.9 1830.0,705.1 C1834.3,698.3 1837.4,689.1 1840.4,684.1 C1843.5,679.1 1845.0,678.3 1848.3,675.0 C1851.6,671.7 1855.3,669.3 1860.1,664.5 C1864.9,659.7 1874.0,650.1 1877.1,646.2 C1880.1,642.3 1880.2,642.2 1878.4,640.9 C1876.7,639.6 1870.8,638.1 1866.6,638.3 C1862.4,638.5 1856.9,640.7 1853.5,642.2 C1850.1,643.7 1848.9,648.1 1846.3,647.5 C1843.7,646.9 1838.3,640.3 1837.8,638.3Z" fill="#6aa55b"/>
<clipPath id="c5"><circle cx="660" cy="1032.7" r="99"/></clipPath>
<g clip-path="url(#c5)"><path d="M703.8,954.4 C709.0,951.8 724.1,959.8 731.9,963.5 C739.6,967.2 747.1,969.2 750.3,976.6 C753.5,984.0 752.2,1001.0 750.9,1008.0 C749.6,1015.0 744.9,1012.4 742.4,1018.5 C739.9,1024.6 738.3,1037.0 735.9,1044.6 C733.5,1052.2 730.8,1058.1 728.0,1064.2 C725.2,1070.3 721.9,1078.0 718.9,1081.3 C715.9,1084.6 713.0,1084.1 709.7,1083.9 C706.4,1083.7 704.2,1082.1 699.2,1079.9 C694.2,1077.7 687.2,1073.8 679.6,1070.8 C672.0,1067.8 661.1,1064.4 653.5,1061.6 C645.9,1058.8 640.4,1054.9 633.9,1053.8 C627.4,1052.7 619.0,1055.8 614.2,1055.1 C609.4,1054.4 607.3,1052.1 605.1,1049.9 C602.9,1047.7 601.6,1045.0 601.2,1042.0 C600.8,1039.0 602.7,1034.6 602.5,1031.6 C602.3,1028.5 602.0,1026.3 599.8,1023.7 C597.6,1021.1 592.0,1018.0 589.4,1015.9 C586.8,1013.8 584.6,1012.4 584.2,1011.3 C583.8,1010.2 582.9,1008.3 586.8,1009.3 C590.7,1010.3 602.5,1015.5 607.7,1017.2 C612.9,1019.0 614.5,1018.7 618.2,1019.8 C621.9,1020.9 626.2,1021.3 629.9,1023.7 C633.6,1026.1 636.5,1031.2 640.4,1034.2 C644.3,1037.2 647.0,1039.2 653.5,1042.0 C660.0,1044.8 671.8,1048.8 679.6,1051.2 C687.5,1053.6 696.8,1061.9 700.6,1056.4 C704.4,1051.0 702.5,1031.4 702.5,1018.5 C702.5,1005.6 700.4,989.9 700.6,979.2 C700.8,968.5 698.6,957.0 703.8,954.4Z" fill="#8a519b"/></g>
<path d="M584.8,1090.4 L584.8,1056 Q589.7,1052 594.6,1056 L594.6,1090.4 Z M589,1050 Q584,1042 588,1034 Q592,1040 591.5,1044 Q593,1047 589,1050 Z" fill="#8a519b"/>
<g clip-path="url(#c6)"><path d="M1708.0,943.1 C1711.4,945.4 1715.0,949.0 1717.5,953.9 C1720.0,958.8 1722.2,965.8 1722.9,972.8 C1723.6,979.8 1722.4,988.5 1721.5,995.7 C1720.6,1002.9 1717.7,1008.1 1717.5,1016.0 C1717.3,1023.9 1718.9,1037.6 1720.2,1043.0 C1721.5,1048.4 1721.5,1050.2 1725.6,1048.4 C1729.6,1046.6 1738.2,1037.6 1744.5,1032.2 C1750.8,1026.8 1759.8,1021.9 1763.4,1016.0 C1767.0,1010.1 1764.8,1002.5 1766.1,997.1 C1767.4,991.7 1769.9,987.7 1771.5,983.6 C1773.1,979.5 1774.2,974.8 1775.5,972.8 C1776.8,970.8 1778.6,970.5 1779.6,971.4 C1780.6,972.3 1781.6,974.8 1781.6,978.2 C1781.6,981.6 1779.0,989.5 1779.6,991.7 C1780.2,994.0 1782.1,993.3 1785.0,991.7 C1787.9,990.1 1793.1,985.7 1797.1,982.2 C1801.1,978.7 1806.4,972.1 1809.2,970.8 C1812.0,969.4 1815.3,971.1 1814.0,974.1 C1812.7,977.1 1803.5,986.1 1801.1,989.0 C1798.7,991.9 1796.4,993.7 1799.8,991.7 C1803.2,989.7 1817.0,978.8 1821.4,976.8 C1825.8,974.8 1825.6,978.4 1826.1,979.5 C1826.5,980.6 1827.8,980.7 1824.1,983.6 C1820.4,986.5 1803.1,995.5 1803.8,997.1 C1804.5,998.7 1823.5,993.0 1828.1,993.0 C1832.7,993.0 1834.9,994.9 1831.5,997.1 C1828.1,999.4 1812.1,1004.5 1807.9,1006.5 C1803.7,1008.5 1803.6,1008.3 1806.5,1009.2 C1809.4,1010.1 1822.0,1010.8 1825.4,1011.9 C1828.8,1013.0 1829.7,1015.1 1826.8,1016.0 C1823.9,1016.9 1813.1,1015.9 1807.9,1017.3 C1802.7,1018.6 1800.4,1021.4 1795.7,1024.1 C1791.0,1026.8 1785.9,1029.0 1779.6,1033.5 C1773.3,1038.0 1766.1,1044.3 1758.0,1051.1 C1749.9,1057.8 1738.9,1067.5 1731.0,1074.0 C1723.1,1080.5 1716.3,1087.3 1710.7,1090.2 C1705.1,1093.1 1701.2,1093.5 1697.2,1091.5 C1693.2,1089.5 1689.3,1083.8 1686.4,1078.0 C1683.5,1072.2 1681.7,1065.7 1679.7,1056.5 C1677.7,1047.3 1675.5,1032.8 1674.3,1022.7 C1673.1,1012.6 1673.0,1000.7 1672.3,995.7 C1671.6,990.8 1672.6,993.5 1670.2,993.0 C1667.8,992.5 1661.0,993.5 1658.1,992.4 C1655.2,991.3 1650.7,992.5 1652.7,986.3 C1654.7,980.1 1662.8,962.9 1670.2,955.2 C1677.6,947.6 1690.9,942.4 1697.2,940.4 C1703.5,938.4 1704.6,940.9 1708.0,943.1Z" fill="#6aa55b"/></g>
<ellipse cx="1696" cy="1044.3" rx="18.5" ry="32" fill="#c28ca3" stroke="#e9dcc4" stroke-width="2" stroke-dasharray="3 1.5"/>
<path d="M1795,1092.9 L1795,1058 Q1799.5,1054 1804,1058 L1804,1092.9 Z M1798.5,1053.5 Q1794,1046 1797,1036 Q1802,1042 1801.5,1047 Q1802,1051 1798.5,1053.5 Z" fill="#6aa55b"/>
<path d="M856.9,702.8 L866.8,696.8" fill="none" stroke="#c94a5c" stroke-width="1.6" stroke-linecap="round"/>
<path d="M853.6,700.8 L858.2,693.0" fill="none" stroke="#c94a5c" stroke-width="1.6" stroke-linecap="round"/>
<path d="M851.9,699.8 L854.0,692.1 L855.5,692.5 L857.6,684.8" fill="none" stroke="#c94a5c" stroke-width="1.6" stroke-linecap="round"/>
<path d="M847.8,699.9 L844.8,690.2" fill="none" stroke="#c94a5c" stroke-width="1.6" stroke-linecap="round"/>
<path d="M846.4,700.9 L842.7,694.7 L841.5,695.5 L837.8,689.3" fill="none" stroke="#c94a5c" stroke-width="1.6" stroke-linecap="round"/>
<path d="M843.7,700.9 L834.9,692.4" fill="none" stroke="#c94a5c" stroke-width="1.6" stroke-linecap="round"/>
<path d="M856.2,712.7 L861.9,717.9 L860.5,719.5 L866.2,724.7" fill="none" stroke="#c94a5c" stroke-width="1.6" stroke-linecap="round"/>
<path d="M854.8,713.0 L857.7,716.6 L856.1,718.0 L859.0,721.6" fill="none" stroke="#c94a5c" stroke-width="1.6" stroke-linecap="round"/>
<path d="M851.7,715.1 L854.0,725.9" fill="none" stroke="#c94a5c" stroke-width="1.6" stroke-linecap="round"/>
<path d="M848.8,714.6 L846.8,727.5" fill="none" stroke="#c94a5c" stroke-width="1.6" stroke-linecap="round"/>
<path d="M844.7,713.5 L834.8,725.4" fill="none" stroke="#c94a5c" stroke-width="1.6" stroke-linecap="round"/>
<path d="M842.6,710.8 L833.6,715.5" fill="none" stroke="#c94a5c" stroke-width="1.6" stroke-linecap="round"/>
<path d="M878.3,700.9 L887.7,691.9" fill="none" stroke="#c94a5c" stroke-width="1.6" stroke-linecap="round"/>
<path d="M877.3,700.1 L881.2,695.0 L879.9,693.9 L883.9,688.8" fill="none" stroke="#c94a5c" stroke-width="1.6" stroke-linecap="round"/>
<path d="M873.2,699.1 L874.0,693.5 L872.8,693.3 L873.6,687.7" fill="none" stroke="#c94a5c" stroke-width="1.6" stroke-linecap="round"/>
<path d="M870.7,699.3 L869.1,689.6" fill="none" stroke="#c94a5c" stroke-width="1.6" stroke-linecap="round"/>
<path d="M867.3,700.8 L859.4,690.3" fill="none" stroke="#c94a5c" stroke-width="1.6" stroke-linecap="round"/>
<path d="M865.4,703.4 L860.7,700.8 L860.1,702.0 L855.4,699.4" fill="none" stroke="#c94a5c" stroke-width="1.6" stroke-linecap="round"/>
<path d="M877.6,711.3 L881.7,714.5 L880.9,715.5 L885.0,718.7" fill="none" stroke="#c94a5c" stroke-width="1.6" stroke-linecap="round"/>
<path d="M877.7,713.6 L884.9,722.2" fill="none" stroke="#c94a5c" stroke-width="1.6" stroke-linecap="round"/>
<path d="M872.5,714.7 L873.4,726.9" fill="none" stroke="#c94a5c" stroke-width="1.6" stroke-linecap="round"/>
<path d="M870.1,715.0 L867.1,727.5" fill="none" stroke="#c94a5c" stroke-width="1.6" stroke-linecap="round"/>
<path d="M866.8,713.1 L859.1,722.3" fill="none" stroke="#c94a5c" stroke-width="1.6" stroke-linecap="round"/>
<path d="M866.2,711.9 L854.1,722.2" fill="none" stroke="#c94a5c" stroke-width="1.6" stroke-linecap="round"/>
<path d="M832.7,703.2 L841.9,695.7" fill="none" stroke="#c94a5c" stroke-width="1.6" stroke-linecap="round"/>
<path d="M832.2,701.1 L836.2,695.7 L837.5,696.7 L841.5,691.3" fill="none" stroke="#c94a5c" stroke-width="1.6" stroke-linecap="round"/>
<path d="M827.6,700.3 L826.7,686.4" fill="none" stroke="#c94a5c" stroke-width="1.6" stroke-linecap="round"/>
<path d="M826.3,701.1 L822.5,687.9" fill="none" stroke="#c94a5c" stroke-width="1.6" stroke-linecap="round"/>
<path d="M823.0,702.3 L818.2,697.8 L819.1,696.8 L814.3,692.3" fill="none" stroke="#c94a5c" stroke-width="1.6" stroke-linecap="round"/>
<path d="M833.6,712.3 L841.5,719.7" fill="none" stroke="#c94a5c" stroke-width="1.6" stroke-linecap="round"/>
<path d="M832.3,713.3 L841.2,726.4" fill="none" stroke="#c94a5c" stroke-width="1.6" stroke-linecap="round"/>
<path d="M828.9,713.9 L829.8,720.7 L828.5,720.8 L829.4,727.6" fill="none" stroke="#c94a5c" stroke-width="1.6" stroke-linecap="round"/>
<path d="M824.9,713.7 L822.9,718.1 L821.2,717.4 L819.2,721.8" fill="none" stroke="#c94a5c" stroke-width="1.6" stroke-linecap="round"/>
<path d="M822.5,712.3 L816.8,717.7 L818.3,719.2 L812.6,724.6" fill="none" stroke="#c94a5c" stroke-width="1.6" stroke-linecap="round"/>
<path d="M810.6,707.9 L821.8,709.0" fill="none" stroke="#c94a5c" stroke-width="1.6" stroke-linecap="round"/>
<path d="M812.0,710.0 L820.9,712.3 L820.5,713.8 L829.4,716.2" fill="none" stroke="#c94a5c" stroke-width="1.6" stroke-linecap="round"/>
<path d="M808.8,712.1 L822.3,720.9" fill="none" stroke="#c94a5c" stroke-width="1.6" stroke-linecap="round"/>
<path d="M808.9,714.0 L815.9,720.1 L814.9,721.2 L821.9,727.3" fill="none" stroke="#c94a5c" stroke-width="1.6" stroke-linecap="round"/>
<path d="M806.3,714.4 L810.4,720.2 L808.6,721.4 L812.7,727.2" fill="none" stroke="#c94a5c" stroke-width="1.6" stroke-linecap="round"/>
<path d="M805.2,718.2 L810.1,731.7" fill="none" stroke="#c94a5c" stroke-width="1.6" stroke-linecap="round"/>
<path d="M802.3,716.6 L804.7,733.9" fill="none" stroke="#c94a5c" stroke-width="1.6" stroke-linecap="round"/>
<path d="M800.7,717.6 L800.5,724.0 L802.6,724.1 L802.4,730.5" fill="none" stroke="#c94a5c" stroke-width="1.6" stroke-linecap="round"/>
<path d="M797.8,718.5 L796.3,723.9 L798.4,724.4 L796.9,729.8" fill="none" stroke="#c94a5c" stroke-width="1.6" stroke-linecap="round"/>
<path d="M795.9,717.6 L787.6,734.7" fill="none" stroke="#c94a5c" stroke-width="1.6" stroke-linecap="round"/>
<path d="M795.6,714.2 L790.4,721.2 L789.2,720.4 L784.0,727.4" fill="none" stroke="#c94a5c" stroke-width="1.6" stroke-linecap="round"/>
<path d="M793.7,714.7 L786.5,722.4" fill="none" stroke="#c94a5c" stroke-width="1.6" stroke-linecap="round"/>
<path d="M793.2,712.2 L776.8,723.1" fill="none" stroke="#c94a5c" stroke-width="1.6" stroke-linecap="round"/>
<path d="M792.1,709.4 L786.2,711.0 L786.6,712.3 L780.7,713.9" fill="none" stroke="#c94a5c" stroke-width="1.6" stroke-linecap="round"/>
<path d="M790.3,702.9 L780.9,699.3" fill="none" stroke="#c94a5c" stroke-width="1.6" stroke-linecap="round"/>
<path d="M793.4,702.0 L788.1,698.4 L788.8,697.4 L783.5,693.9" fill="none" stroke="#c94a5c" stroke-width="1.6" stroke-linecap="round"/>
<path d="M792.3,699.6 L778.1,687.6" fill="none" stroke="#c94a5c" stroke-width="1.6" stroke-linecap="round"/>
<path d="M795.1,700.0 L790.3,694.4 L789.0,695.5 L784.2,689.8" fill="none" stroke="#c94a5c" stroke-width="1.6" stroke-linecap="round"/>
<path d="M797.1,698.4 L794.9,693.5 L796.6,692.7 L794.4,687.8" fill="none" stroke="#c94a5c" stroke-width="1.6" stroke-linecap="round"/>
<path d="M798.8,697.7 L797.3,691.2 L795.4,691.7 L793.9,685.2" fill="none" stroke="#c94a5c" stroke-width="1.6" stroke-linecap="round"/>
<path d="M800.8,697.8 L800.7,691.9 L802.5,691.8 L802.4,685.9" fill="none" stroke="#c94a5c" stroke-width="1.6" stroke-linecap="round"/>
<path d="M802.5,695.4 L803.9,685.0" fill="none" stroke="#c94a5c" stroke-width="1.6" stroke-linecap="round"/>
<path d="M805.4,698.1 L809.8,689.4 L808.5,688.7 L812.8,680.0" fill="none" stroke="#c94a5c" stroke-width="1.6" stroke-linecap="round"/>
<path d="M807.6,698.1 L810.7,693.8 L811.8,694.5 L815.0,690.2" fill="none" stroke="#c94a5c" stroke-width="1.6" stroke-linecap="round"/>
<path d="M807.9,699.8 L821.4,685.5" fill="none" stroke="#c94a5c" stroke-width="1.6" stroke-linecap="round"/>
<path d="M809.4,702.8 L824.5,695.3" fill="none" stroke="#c94a5c" stroke-width="1.6" stroke-linecap="round"/>
<path d="M812.1,703.9 L819.5,701.8 L819.0,699.9 L826.3,697.8" fill="none" stroke="#c94a5c" stroke-width="1.6" stroke-linecap="round"/>
<path d="M810.3,706.1 L818.2,705.4 L818.0,704.0 L825.9,703.2" fill="none" stroke="#c94a5c" stroke-width="1.6" stroke-linecap="round"/>
<path d="M800,707 L1272,707" fill="none" stroke="#fff" stroke-width="11" stroke-linecap="round" stroke-linejoin="round"/>
<path d="M800,707 L1272,707" fill="none" stroke="#7db8ae" stroke-width="5.5" stroke-linecap="round" stroke-linejoin="round"/>
<circle cx="1272.5" cy="706.5" r="8" fill="#7db8ae" stroke="#fff" stroke-width="2.5"/>
<path d="M806,707 L795,697 M806,707 L795,717" stroke="#fff" stroke-width="12" stroke-linecap="round"/>
<path d="M806,707 L795,697 M806,707 L795,717" stroke="#7db8ae" stroke-width="6" stroke-linecap="round"/>
<path transform="translate(1070,707) rotate(0)" d="M6.5,0 L-5.5,-9.5 L-5.5,9.5 Z" fill="#7db8ae" stroke="#fff" stroke-width="2.6" stroke-linejoin="round" paint-order="stroke"/>
<path d="M1541.7,702.5 L1552.4,695.3" fill="none" stroke="#c94a5c" stroke-width="1.6" stroke-linecap="round"/>
<path d="M1539.9,699.9 L1546.4,690.5" fill="none" stroke="#c94a5c" stroke-width="1.6" stroke-linecap="round"/>
<path d="M1537.4,700.2 L1541.4,688.5" fill="none" stroke="#c94a5c" stroke-width="1.6" stroke-linecap="round"/>
<path d="M1534.1,699.5 L1532.9,689.9" fill="none" stroke="#c94a5c" stroke-width="1.6" stroke-linecap="round"/>
<path d="M1530.5,700.3 L1524.6,691.4" fill="none" stroke="#c94a5c" stroke-width="1.6" stroke-linecap="round"/>
<path d="M1529.0,701.5 L1519.6,692.8" fill="none" stroke="#c94a5c" stroke-width="1.6" stroke-linecap="round"/>
<path d="M1541.2,710.6 L1555.0,718.7" fill="none" stroke="#c94a5c" stroke-width="1.6" stroke-linecap="round"/>
<path d="M1539.6,714.0 L1543.9,720.5 L1542.1,721.7 L1546.4,728.2" fill="none" stroke="#c94a5c" stroke-width="1.6" stroke-linecap="round"/>
<path d="M1536.5,715.8 L1537.5,721.5 L1535.5,721.9 L1536.5,727.6" fill="none" stroke="#c94a5c" stroke-width="1.6" stroke-linecap="round"/>
<path d="M1532.5,714.4 L1528.2,726.7" fill="none" stroke="#c94a5c" stroke-width="1.6" stroke-linecap="round"/>
<path d="M1529.6,713.4 L1526.4,717.3 L1527.4,718.2 L1524.2,722.0" fill="none" stroke="#c94a5c" stroke-width="1.6" stroke-linecap="round"/>
<path d="M1528.5,711.7 L1517.3,719.8" fill="none" stroke="#c94a5c" stroke-width="1.6" stroke-linecap="round"/>
<path d="M1568.9,701.7 L1576.8,695.7" fill="none" stroke="#c94a5c" stroke-width="1.6" stroke-linecap="round"/>
<path d="M1567.0,700.7 L1576.7,688.6" fill="none" stroke="#c94a5c" stroke-width="1.6" stroke-linecap="round"/>
<path d="M1563.5,698.6 L1565.9,685.1" fill="none" stroke="#c94a5c" stroke-width="1.6" stroke-linecap="round"/>
<path d="M1560.2,699.0 L1556.8,683.5" fill="none" stroke="#c94a5c" stroke-width="1.6" stroke-linecap="round"/>
<path d="M1558.3,700.4 L1554.8,694.0 L1556.0,693.3 L1552.5,686.9" fill="none" stroke="#c94a5c" stroke-width="1.6" stroke-linecap="round"/>
<path d="M1555.0,701.9 L1545.3,694.8" fill="none" stroke="#c94a5c" stroke-width="1.6" stroke-linecap="round"/>
<path d="M1567.7,711.7 L1577.8,720.0" fill="none" stroke="#c94a5c" stroke-width="1.6" stroke-linecap="round"/>
<path d="M1565.5,713.1 L1569.5,720.0 L1567.8,721.0 L1571.7,727.9" fill="none" stroke="#c94a5c" stroke-width="1.6" stroke-linecap="round"/>
<path d="M1562.5,714.1 L1563.7,729.4" fill="none" stroke="#c94a5c" stroke-width="1.6" stroke-linecap="round"/>
<path d="M1560.0,715.3 L1558.9,719.9 L1557.5,719.6 L1556.4,724.2" fill="none" stroke="#c94a5c" stroke-width="1.6" stroke-linecap="round"/>
<path d="M1558.6,713.7 L1553.9,722.9" fill="none" stroke="#c94a5c" stroke-width="1.6" stroke-linecap="round"/>
<path d="M1554.4,711.3 L1545.0,716.7" fill="none" stroke="#c94a5c" stroke-width="1.6" stroke-linecap="round"/>
<path d="M1594.6,702.8 L1600.6,699.0 L1599.8,697.7 L1605.7,693.9" fill="none" stroke="#c94a5c" stroke-width="1.6" stroke-linecap="round"/>
<path d="M1591.0,700.6 L1596.2,689.6" fill="none" stroke="#c94a5c" stroke-width="1.6" stroke-linecap="round"/>
<path d="M1589.7,700.1 L1591.0,694.6 L1589.6,694.3 L1591.0,688.8" fill="none" stroke="#c94a5c" stroke-width="1.6" stroke-linecap="round"/>
<path d="M1586.1,698.3 L1583.6,686.8" fill="none" stroke="#c94a5c" stroke-width="1.6" stroke-linecap="round"/>
<path d="M1584.7,700.2 L1581.7,694.1 L1582.9,693.5 L1579.9,687.4" fill="none" stroke="#c94a5c" stroke-width="1.6" stroke-linecap="round"/>
<path d="M1581.2,703.3 L1568.5,696.5" fill="none" stroke="#c94a5c" stroke-width="1.6" stroke-linecap="round"/>
<path d="M1595.1,711.5 L1606.5,718.7" fill="none" stroke="#c94a5c" stroke-width="1.6" stroke-linecap="round"/>
<path d="M1593.1,713.8 L1602.4,726.5" fill="none" stroke="#c94a5c" stroke-width="1.6" stroke-linecap="round"/>
<path d="M1589.3,714.1 L1590.4,720.2 L1588.5,720.6 L1589.6,726.7" fill="none" stroke="#c94a5c" stroke-width="1.6" stroke-linecap="round"/>
<path d="M1586.5,714.2 L1583.7,727.4" fill="none" stroke="#c94a5c" stroke-width="1.6" stroke-linecap="round"/>
<path d="M1584.0,714.8 L1580.9,720.9 L1582.8,721.8 L1579.8,727.9" fill="none" stroke="#c94a5c" stroke-width="1.6" stroke-linecap="round"/>
<path d="M1581.1,711.6 L1576.1,714.8 L1577.0,716.2 L1572.0,719.5" fill="none" stroke="#c94a5c" stroke-width="1.6" stroke-linecap="round"/>
<path d="M1623.5,707.8 L1634.2,708.6" fill="none" stroke="#c94a5c" stroke-width="1.6" stroke-linecap="round"/>
<path d="M1623.9,711.1 L1632.0,714.1 L1631.5,715.5 L1639.7,718.5" fill="none" stroke="#c94a5c" stroke-width="1.6" stroke-linecap="round"/>
<path d="M1622.4,711.5 L1629.0,714.7 L1628.1,716.6 L1634.8,719.8" fill="none" stroke="#c94a5c" stroke-width="1.6" stroke-linecap="round"/>
<path d="M1620.8,715.2 L1627.1,721.7 L1625.6,723.1 L1631.9,729.7" fill="none" stroke="#c94a5c" stroke-width="1.6" stroke-linecap="round"/>
<path d="M1619.9,715.3 L1623.4,719.5 L1624.5,718.7 L1628.0,722.9" fill="none" stroke="#c94a5c" stroke-width="1.6" stroke-linecap="round"/>
<path d="M1618.1,717.0 L1626.0,732.6" fill="none" stroke="#c94a5c" stroke-width="1.6" stroke-linecap="round"/>
<path d="M1615.0,718.6 L1615.9,724.3 L1617.6,724.0 L1618.6,729.6" fill="none" stroke="#c94a5c" stroke-width="1.6" stroke-linecap="round"/>
<path d="M1613.6,717.5 L1614.1,726.8 L1612.9,726.9 L1613.4,736.2" fill="none" stroke="#c94a5c" stroke-width="1.6" stroke-linecap="round"/>
<path d="M1609.7,719.2 L1607.2,728.7 L1605.5,728.2 L1603.0,737.6" fill="none" stroke="#c94a5c" stroke-width="1.6" stroke-linecap="round"/>
<path d="M1607.2,717.6 L1601.0,729.0" fill="none" stroke="#c94a5c" stroke-width="1.6" stroke-linecap="round"/>
<path d="M1606.1,716.6 L1601.0,723.6 L1602.4,724.6 L1597.3,731.6" fill="none" stroke="#c94a5c" stroke-width="1.6" stroke-linecap="round"/>
<path d="M1604.5,714.6 L1595.6,722.5" fill="none" stroke="#c94a5c" stroke-width="1.6" stroke-linecap="round"/>
<path d="M1603.5,713.5 L1596.7,718.2 L1595.5,716.4 L1588.7,721.0" fill="none" stroke="#c94a5c" stroke-width="1.6" stroke-linecap="round"/>
<path d="M1602.9,709.6 L1585.5,714.0" fill="none" stroke="#c94a5c" stroke-width="1.6" stroke-linecap="round"/>
<path d="M1602.1,709.0 L1596.0,710.1 L1596.4,712.2 L1590.3,713.3" fill="none" stroke="#c94a5c" stroke-width="1.6" stroke-linecap="round"/>
<path d="M1601.8,702.6 L1591.2,698.4" fill="none" stroke="#c94a5c" stroke-width="1.6" stroke-linecap="round"/>
<path d="M1602.0,700.4 L1587.3,691.6" fill="none" stroke="#c94a5c" stroke-width="1.6" stroke-linecap="round"/>
<path d="M1603.6,698.9 L1588.9,686.4" fill="none" stroke="#c94a5c" stroke-width="1.6" stroke-linecap="round"/>
<path d="M1605.7,697.1 L1601.3,691.2 L1600.0,692.1 L1595.5,686.2" fill="none" stroke="#c94a5c" stroke-width="1.6" stroke-linecap="round"/>
<path d="M1608.7,695.7 L1606.3,689.2 L1604.6,689.8 L1602.2,683.3" fill="none" stroke="#c94a5c" stroke-width="1.6" stroke-linecap="round"/>
<path d="M1610.4,695.3 L1608.9,689.0 L1610.5,688.6 L1609.1,682.3" fill="none" stroke="#c94a5c" stroke-width="1.6" stroke-linecap="round"/>
<path d="M1612.9,696.9 L1612.8,684.3" fill="none" stroke="#c94a5c" stroke-width="1.6" stroke-linecap="round"/>
<path d="M1615.2,696.1 L1618.0,682.4" fill="none" stroke="#c94a5c" stroke-width="1.6" stroke-linecap="round"/>
<path d="M1617.9,697.4 L1624.1,685.2" fill="none" stroke="#c94a5c" stroke-width="1.6" stroke-linecap="round"/>
<path d="M1619.2,698.6 L1625.3,690.3" fill="none" stroke="#c94a5c" stroke-width="1.6" stroke-linecap="round"/>
<path d="M1621.9,699.0 L1630.3,691.4" fill="none" stroke="#c94a5c" stroke-width="1.6" stroke-linecap="round"/>
<path d="M1622.1,701.6 L1630.0,697.0 L1630.8,698.3 L1638.8,693.7" fill="none" stroke="#c94a5c" stroke-width="1.6" stroke-linecap="round"/>
<path d="M1622.8,704.2 L1629.5,702.3 L1628.9,700.2 L1635.7,698.3" fill="none" stroke="#c94a5c" stroke-width="1.6" stroke-linecap="round"/>
<path d="M1623.7,706.6 L1630.7,706.3 L1630.7,708.1 L1637.7,707.8" fill="none" stroke="#c94a5c" stroke-width="1.6" stroke-linecap="round"/>
<path d="M1343,707 L1605,707" fill="none" stroke="#fff" stroke-width="11" stroke-linecap="round" stroke-linejoin="round"/>
<path d="M1343,707 L1605,707" fill="none" stroke="#7db8ae" stroke-width="5.5" stroke-linecap="round" stroke-linejoin="round"/>
<circle cx="1343" cy="706.5" r="8" fill="#7db8ae" stroke="#fff" stroke-width="2.5"/>
<path d="M1600,707 C1605,700 1612,697 1625,697 L1618,707 L1625,717 C1612,717 1605,714 1600,707 Z" fill="#7db8ae" stroke="#fff" stroke-width="2"/>
<path transform="translate(1430,707) rotate(0)" d="M6.5,0 L-5.5,-9.5 L-5.5,9.5 Z" fill="#7db8ae" stroke="#fff" stroke-width="2.6" stroke-linejoin="round" paint-order="stroke"/>
<path d="M1271,688 L1262,696 M1271,688 L1280,696" stroke="#fff" stroke-width="11" stroke-linecap="round"/>
<path d="M1271,688 L1262,696 M1271,688 L1280,696" stroke="#7db8ae" stroke-width="6" stroke-linecap="round"/>
<path transform="translate(1343,690) rotate(90)" d="M6.5,0 L-5.5,-9.5 L-5.5,9.5 Z" fill="#7db8ae" stroke="#fff" stroke-width="2.6" stroke-linejoin="round" paint-order="stroke"/>
<path d="M1626.1,1035.0 L1633.9,1029.9" fill="none" stroke="#c94a5c" stroke-width="1.6" stroke-linecap="round"/>
<path d="M1625.1,1032.1 L1632.4,1022.2" fill="none" stroke="#c94a5c" stroke-width="1.6" stroke-linecap="round"/>
<path d="M1621.9,1031.7 L1624.5,1021.2" fill="none" stroke="#c94a5c" stroke-width="1.6" stroke-linecap="round"/>
<path d="M1618.3,1031.5 L1616.1,1022.1" fill="none" stroke="#c94a5c" stroke-width="1.6" stroke-linecap="round"/>
<path d="M1614.7,1032.8 L1611.7,1029.4 L1610.8,1030.2 L1607.9,1026.7" fill="none" stroke="#c94a5c" stroke-width="1.6" stroke-linecap="round"/>
<path d="M1613.5,1034.3 L1605.2,1028.3" fill="none" stroke="#c94a5c" stroke-width="1.6" stroke-linecap="round"/>
<path d="M1627.4,1043.8 L1633.4,1047.7 L1632.2,1049.4 L1638.2,1053.3" fill="none" stroke="#c94a5c" stroke-width="1.6" stroke-linecap="round"/>
<path d="M1623.0,1045.4 L1627.7,1055.5" fill="none" stroke="#c94a5c" stroke-width="1.6" stroke-linecap="round"/>
<path d="M1620.4,1046.2 L1621.0,1057.2" fill="none" stroke="#c94a5c" stroke-width="1.6" stroke-linecap="round"/>
<path d="M1619.4,1046.8 L1618.6,1058.1" fill="none" stroke="#c94a5c" stroke-width="1.6" stroke-linecap="round"/>
<path d="M1615.3,1044.6 L1606.2,1055.5" fill="none" stroke="#c94a5c" stroke-width="1.6" stroke-linecap="round"/>
<path d="M1613.0,1043.1 L1606.3,1046.9 L1605.5,1045.5 L1598.8,1049.4" fill="none" stroke="#c94a5c" stroke-width="1.6" stroke-linecap="round"/>
<path d="M1654.9,1034.2 L1664.3,1027.7" fill="none" stroke="#c94a5c" stroke-width="1.6" stroke-linecap="round"/>
<path d="M1652.6,1031.8 L1660.8,1018.8" fill="none" stroke="#c94a5c" stroke-width="1.6" stroke-linecap="round"/>
<path d="M1648.4,1031.9 L1648.9,1021.7" fill="none" stroke="#c94a5c" stroke-width="1.6" stroke-linecap="round"/>
<path d="M1646.0,1032.1 L1642.1,1018.8" fill="none" stroke="#c94a5c" stroke-width="1.6" stroke-linecap="round"/>
<path d="M1644.0,1031.9 L1640.4,1025.5 L1639.0,1026.3 L1635.4,1019.9" fill="none" stroke="#c94a5c" stroke-width="1.6" stroke-linecap="round"/>
<path d="M1640.6,1034.9 L1635.6,1032.2 L1635.0,1033.4 L1630.0,1030.6" fill="none" stroke="#c94a5c" stroke-width="1.6" stroke-linecap="round"/>
<path d="M1654.7,1044.8 L1659.0,1048.5 L1658.2,1049.5 L1662.5,1053.2" fill="none" stroke="#c94a5c" stroke-width="1.6" stroke-linecap="round"/>
<path d="M1651.7,1045.5 L1654.1,1049.5 L1655.6,1048.6 L1657.9,1052.7" fill="none" stroke="#c94a5c" stroke-width="1.6" stroke-linecap="round"/>
<path d="M1650.5,1046.0 L1653.1,1053.5 L1651.5,1054.0 L1654.1,1061.5" fill="none" stroke="#c94a5c" stroke-width="1.6" stroke-linecap="round"/>
<path d="M1645.7,1046.3 L1641.0,1060.7" fill="none" stroke="#c94a5c" stroke-width="1.6" stroke-linecap="round"/>
<path d="M1643.6,1046.0 L1638.7,1053.9" fill="none" stroke="#c94a5c" stroke-width="1.6" stroke-linecap="round"/>
<path d="M1640.8,1043.9 L1632.7,1049.3" fill="none" stroke="#c94a5c" stroke-width="1.6" stroke-linecap="round"/>
<path d="M1676.1,1035.1 L1686.0,1028.7" fill="none" stroke="#c94a5c" stroke-width="1.6" stroke-linecap="round"/>
<path d="M1672.7,1032.3 L1677.4,1020.8" fill="none" stroke="#c94a5c" stroke-width="1.6" stroke-linecap="round"/>
<path d="M1669.4,1031.2 L1668.4,1017.6" fill="none" stroke="#c94a5c" stroke-width="1.6" stroke-linecap="round"/>
<path d="M1666.7,1030.7 L1664.5,1025.1 L1662.9,1025.8 L1660.6,1020.1" fill="none" stroke="#c94a5c" stroke-width="1.6" stroke-linecap="round"/>
<path d="M1663.4,1033.7 L1659.7,1030.7 L1660.9,1029.2 L1657.2,1026.2" fill="none" stroke="#c94a5c" stroke-width="1.6" stroke-linecap="round"/>
<path d="M1675.7,1045.1 L1683.6,1053.5" fill="none" stroke="#c94a5c" stroke-width="1.6" stroke-linecap="round"/>
<path d="M1674.6,1045.6 L1680.8,1054.4" fill="none" stroke="#c94a5c" stroke-width="1.6" stroke-linecap="round"/>
<path d="M1671.2,1046.4 L1672.1,1052.3 L1670.8,1052.6 L1671.7,1058.5" fill="none" stroke="#c94a5c" stroke-width="1.6" stroke-linecap="round"/>
<path d="M1665.2,1045.9 L1656.5,1058.3" fill="none" stroke="#c94a5c" stroke-width="1.6" stroke-linecap="round"/>
<path d="M1662.8,1044.2 L1657.6,1047.9 L1658.8,1049.6 L1653.7,1053.3" fill="none" stroke="#c94a5c" stroke-width="1.6" stroke-linecap="round"/>
<path d="M1708.3,1040.8 L1716.1,1042.1 L1716.3,1040.6 L1724.1,1041.8" fill="none" stroke="#c94a5c" stroke-width="1.6" stroke-linecap="round"/>
<path d="M1706.9,1042.5 L1715.4,1045.5" fill="none" stroke="#c94a5c" stroke-width="1.6" stroke-linecap="round"/>
<path d="M1707.5,1043.8 L1714.0,1046.8 L1714.7,1045.5 L1721.2,1048.5" fill="none" stroke="#c94a5c" stroke-width="1.6" stroke-linecap="round"/>
<path d="M1705.9,1045.6 L1718.3,1054.7" fill="none" stroke="#c94a5c" stroke-width="1.6" stroke-linecap="round"/>
<path d="M1704.2,1046.4 L1708.0,1050.3 L1709.0,1049.4 L1712.8,1053.3" fill="none" stroke="#c94a5c" stroke-width="1.6" stroke-linecap="round"/>
<path d="M1703.6,1049.6 L1706.4,1054.2 L1704.6,1055.3 L1707.5,1059.9" fill="none" stroke="#c94a5c" stroke-width="1.6" stroke-linecap="round"/>
<path d="M1701.8,1050.9 L1706.5,1062.7" fill="none" stroke="#c94a5c" stroke-width="1.6" stroke-linecap="round"/>
<path d="M1699.9,1051.5 L1701.1,1056.8 L1699.1,1057.3 L1700.3,1062.6" fill="none" stroke="#c94a5c" stroke-width="1.6" stroke-linecap="round"/>
<path d="M1696.5,1049.9 L1696.0,1060.3" fill="none" stroke="#c94a5c" stroke-width="1.6" stroke-linecap="round"/>
<path d="M1695.8,1049.3 L1694.3,1062.6" fill="none" stroke="#c94a5c" stroke-width="1.6" stroke-linecap="round"/>
<path d="M1693.8,1048.6 L1690.6,1058.2" fill="none" stroke="#c94a5c" stroke-width="1.6" stroke-linecap="round"/>
<path d="M1690.2,1050.0 L1682.0,1063.6" fill="none" stroke="#c94a5c" stroke-width="1.6" stroke-linecap="round"/>
<path d="M1690.4,1047.3 L1687.9,1050.5 L1686.3,1049.2 L1683.8,1052.4" fill="none" stroke="#c94a5c" stroke-width="1.6" stroke-linecap="round"/>
<path d="M1687.0,1046.3 L1681.9,1050.0 L1681.0,1048.7 L1675.9,1052.4" fill="none" stroke="#c94a5c" stroke-width="1.6" stroke-linecap="round"/>
<path d="M1688.1,1043.8 L1677.3,1049.7" fill="none" stroke="#c94a5c" stroke-width="1.6" stroke-linecap="round"/>
<path d="M1684.7,1042.2 L1676.9,1044.2 L1677.4,1046.0 L1669.6,1048.0" fill="none" stroke="#c94a5c" stroke-width="1.6" stroke-linecap="round"/>
<path d="M1686.5,1035.6 L1682.1,1034.2 L1681.7,1035.3 L1677.3,1033.9" fill="none" stroke="#c94a5c" stroke-width="1.6" stroke-linecap="round"/>
<path d="M1685.8,1033.1 L1678.2,1029.1 L1678.9,1027.7 L1671.4,1023.8" fill="none" stroke="#c94a5c" stroke-width="1.6" stroke-linecap="round"/>
<path d="M1688.4,1032.3 L1685.0,1029.6 L1684.0,1030.8 L1680.6,1028.1" fill="none" stroke="#c94a5c" stroke-width="1.6" stroke-linecap="round"/>
<path d="M1689.2,1030.8 L1683.6,1025.0 L1682.3,1026.2 L1676.8,1020.4" fill="none" stroke="#c94a5c" stroke-width="1.6" stroke-linecap="round"/>
<path d="M1691.2,1030.7 L1687.6,1025.4 L1689.3,1024.2 L1685.6,1018.9" fill="none" stroke="#c94a5c" stroke-width="1.6" stroke-linecap="round"/>
<path d="M1693.5,1029.5 L1688.8,1016.6" fill="none" stroke="#c94a5c" stroke-width="1.6" stroke-linecap="round"/>
<path d="M1695.0,1028.3 L1692.2,1013.5" fill="none" stroke="#c94a5c" stroke-width="1.6" stroke-linecap="round"/>
<path d="M1696.3,1027.0 L1695.6,1015.3" fill="none" stroke="#c94a5c" stroke-width="1.6" stroke-linecap="round"/>
<path d="M1700.1,1026.5 L1701.8,1019.5 L1703.2,1019.8 L1704.9,1012.8" fill="none" stroke="#c94a5c" stroke-width="1.6" stroke-linecap="round"/>
<path d="M1701.3,1027.3 L1703.2,1022.0 L1701.2,1021.3 L1703.1,1016.1" fill="none" stroke="#c94a5c" stroke-width="1.6" stroke-linecap="round"/>
<path d="M1702.6,1029.3 L1705.3,1024.7 L1706.7,1025.5 L1709.5,1020.8" fill="none" stroke="#c94a5c" stroke-width="1.6" stroke-linecap="round"/>
<path d="M1705.2,1031.0 L1717.8,1018.7" fill="none" stroke="#c94a5c" stroke-width="1.6" stroke-linecap="round"/>
<path d="M1705.4,1033.0 L1711.3,1028.9 L1710.0,1027.1 L1715.9,1023.0" fill="none" stroke="#c94a5c" stroke-width="1.6" stroke-linecap="round"/>
<path d="M1708.2,1034.4 L1719.5,1029.7" fill="none" stroke="#c94a5c" stroke-width="1.6" stroke-linecap="round"/>
<path d="M1707.4,1036.0 L1714.0,1034.1 L1714.6,1036.1 L1721.1,1034.2" fill="none" stroke="#c94a5c" stroke-width="1.6" stroke-linecap="round"/>
<path d="M1709.6,1037.2 L1719.3,1035.7" fill="none" stroke="#c94a5c" stroke-width="1.6" stroke-linecap="round"/>
<path d="M641.9,986.3 L647.3,986.8 L647.4,985.3 L652.8,985.8" fill="none" stroke="#e0792c" stroke-width="1.6" stroke-linecap="round"/>
<path d="M640.1,987.8 L650.7,990.3" fill="none" stroke="#e0792c" stroke-width="1.6" stroke-linecap="round"/>
<path d="M640.0,988.9 L649.1,991.9 L649.8,989.8 L658.9,992.8" fill="none" stroke="#e0792c" stroke-width="1.6" stroke-linecap="round"/>
<path d="M639.0,990.7 L643.9,993.2 L642.9,995.1 L647.7,997.5" fill="none" stroke="#e0792c" stroke-width="1.6" stroke-linecap="round"/>
<path d="M639.7,994.0 L643.4,996.8 L644.7,995.1 L648.3,997.8" fill="none" stroke="#e0792c" stroke-width="1.6" stroke-linecap="round"/>
<path d="M637.5,994.0 L645.3,1001.3 L644.1,1002.5 L651.9,1009.8" fill="none" stroke="#e0792c" stroke-width="1.6" stroke-linecap="round"/>
<path d="M635.8,996.1 L641.6,1004.3 L640.3,1005.3 L646.1,1013.5" fill="none" stroke="#e0792c" stroke-width="1.6" stroke-linecap="round"/>
<path d="M634.3,996.7 L641.9,1010.8" fill="none" stroke="#e0792c" stroke-width="1.6" stroke-linecap="round"/>
<path d="M633.3,997.7 L641.3,1017.3" fill="none" stroke="#e0792c" stroke-width="1.6" stroke-linecap="round"/>
<path d="M631.7,999.4 L634.2,1009.1 L632.2,1009.6 L634.7,1019.2" fill="none" stroke="#e0792c" stroke-width="1.6" stroke-linecap="round"/>
<path d="M629.6,998.7 L630.7,1008.4" fill="none" stroke="#e0792c" stroke-width="1.6" stroke-linecap="round"/>
<path d="M627.5,998.7 L627.3,1004.2 L625.1,1004.2 L625.0,1009.7" fill="none" stroke="#e0792c" stroke-width="1.6" stroke-linecap="round"/>
<path d="M624.8,998.2 L622.6,1007.4 L621.1,1007.1 L618.9,1016.3" fill="none" stroke="#e0792c" stroke-width="1.6" stroke-linecap="round"/>
<path d="M623.5,996.8 L618.1,1010.7" fill="none" stroke="#e0792c" stroke-width="1.6" stroke-linecap="round"/>
<path d="M621.2,997.0 L612.3,1012.8" fill="none" stroke="#e0792c" stroke-width="1.6" stroke-linecap="round"/>
<path d="M619.9,995.2 L614.4,1002.3 L613.2,1001.4 L607.6,1008.4" fill="none" stroke="#e0792c" stroke-width="1.6" stroke-linecap="round"/>
<path d="M618.9,994.9 L612.6,1001.8 L613.7,1002.8 L607.4,1009.6" fill="none" stroke="#e0792c" stroke-width="1.6" stroke-linecap="round"/>
<path d="M616.9,992.4 L604.2,1000.9" fill="none" stroke="#e0792c" stroke-width="1.6" stroke-linecap="round"/>
<path d="M614.6,991.6 L607.5,995.1 L608.0,996.2 L600.9,999.7" fill="none" stroke="#e0792c" stroke-width="1.6" stroke-linecap="round"/>
<path d="M614.4,990.2 L605.5,993.6 L604.9,992.1 L596.0,995.5" fill="none" stroke="#e0792c" stroke-width="1.6" stroke-linecap="round"/>
<path d="M615.1,987.1 L603.4,988.9" fill="none" stroke="#e0792c" stroke-width="1.6" stroke-linecap="round"/>
<path d="M614.7,985.4 L594.4,985.9" fill="none" stroke="#e0792c" stroke-width="1.6" stroke-linecap="round"/>
<path d="M615.1,984.3 L607.3,983.9 L607.5,981.7 L599.7,981.3" fill="none" stroke="#e0792c" stroke-width="1.6" stroke-linecap="round"/>
<path d="M616.0,982.1 L608.5,980.3 L608.2,981.9 L600.6,980.1" fill="none" stroke="#e0792c" stroke-width="1.6" stroke-linecap="round"/>
<path d="M616.4,980.5 L611.7,978.7 L612.2,977.4 L607.5,975.6" fill="none" stroke="#e0792c" stroke-width="1.6" stroke-linecap="round"/>
<path d="M615.2,978.9 L609.3,976.1 L610.2,974.2 L604.3,971.4" fill="none" stroke="#e0792c" stroke-width="1.6" stroke-linecap="round"/>
<path d="M616.6,975.7 L605.1,966.4" fill="none" stroke="#e0792c" stroke-width="1.6" stroke-linecap="round"/>
<path d="M617.2,975.1 L612.1,970.4 L613.1,969.3 L608.0,964.6" fill="none" stroke="#e0792c" stroke-width="1.6" stroke-linecap="round"/>
<path d="M618.9,973.7 L613.7,967.2 L612.1,968.4 L606.8,961.9" fill="none" stroke="#e0792c" stroke-width="1.6" stroke-linecap="round"/>
<path d="M621.4,973.3 L616.0,963.8 L614.6,964.5 L609.3,955.0" fill="none" stroke="#e0792c" stroke-width="1.6" stroke-linecap="round"/>
<path d="M623.4,972.5 L617.4,956.4" fill="none" stroke="#e0792c" stroke-width="1.6" stroke-linecap="round"/>
<path d="M625.3,973.0 L620.5,951.8" fill="none" stroke="#e0792c" stroke-width="1.6" stroke-linecap="round"/>
<path d="M626.4,971.8 L624.2,953.1" fill="none" stroke="#e0792c" stroke-width="1.6" stroke-linecap="round"/>
<path d="M628.3,973.0 L628.4,965.4 L626.4,965.3 L626.6,957.7" fill="none" stroke="#e0792c" stroke-width="1.6" stroke-linecap="round"/>
<path d="M630.6,972.0 L633.8,955.7" fill="none" stroke="#e0792c" stroke-width="1.6" stroke-linecap="round"/>
<path d="M632.2,972.5 L635.4,962.9" fill="none" stroke="#e0792c" stroke-width="1.6" stroke-linecap="round"/>
<path d="M634.4,971.6 L641.2,957.4" fill="none" stroke="#e0792c" stroke-width="1.6" stroke-linecap="round"/>
<path d="M635.1,974.5 L643.6,962.0" fill="none" stroke="#e0792c" stroke-width="1.6" stroke-linecap="round"/>
<path d="M637.1,976.0 L652.6,960.6" fill="none" stroke="#e0792c" stroke-width="1.6" stroke-linecap="round"/>
<path d="M638.1,977.5 L648.5,969.8" fill="none" stroke="#e0792c" stroke-width="1.6" stroke-linecap="round"/>
<path d="M639.6,978.0 L647.0,973.6 L646.1,972.2 L653.4,967.8" fill="none" stroke="#e0792c" stroke-width="1.6" stroke-linecap="round"/>
<path d="M641.8,980.3 L649.9,977.5 L649.5,976.1 L657.6,973.3" fill="none" stroke="#e0792c" stroke-width="1.6" stroke-linecap="round"/>
<path d="M640.9,981.6 L661.3,976.2" fill="none" stroke="#e0792c" stroke-width="1.6" stroke-linecap="round"/>
<path d="M640.9,984.6 L650.3,984.3 L650.3,982.7 L659.7,982.4" fill="none" stroke="#e0792c" stroke-width="1.6" stroke-linecap="round"/>
<path d="M614.2,991 L693,1016 C700,1018 703,1010 700,1000 L681,960 C676,948 683,943 690,944 C705,946 735,965 745,985 L760,1025 C765,1036 772,1039 790,1039 L1300,1039" fill="none" stroke="#fff" stroke-width="13" stroke-linecap="round" stroke-linejoin="round"/>
<path d="M614.2,991 L693,1016 C700,1018 703,1010 700,1000 L681,960 C676,948 683,943 690,944 C705,946 735,965 745,985 L760,1025 C765,1036 772,1039 790,1039 L1300,1039" fill="none" stroke="#2a9fe0" stroke-width="7" stroke-linecap="round" stroke-linejoin="round"/>
<path d="M604,995 L614.2,991 L608,980" fill="none" stroke="#fff" stroke-width="12" stroke-linecap="round" stroke-linejoin="round"/>
<path d="M604,995 L614.2,991 L608,980" fill="none" stroke="#2a9fe0" stroke-width="6" stroke-linecap="round" stroke-linejoin="round"/>
<circle cx="1308.3" cy="1039.4" r="10" fill="#2a9fe0" stroke="#fff" stroke-width="3"/>
<path d="M1335,1039 L1697,1039" fill="none" stroke="#fff" stroke-width="13" stroke-linecap="round" stroke-linejoin="round"/>
<path d="M1335,1039 L1697,1039" fill="none" stroke="#2a9fe0" stroke-width="7" stroke-linecap="round" stroke-linejoin="round"/>
<path d="M1329,1029 L1338,1039 L1329,1049" fill="none" stroke="#fff" stroke-width="11" stroke-linecap="round" stroke-linejoin="round"/>
<path d="M1329,1029 L1338,1039 L1329,1049" fill="none" stroke="#2a9fe0" stroke-width="5" stroke-linecap="round" stroke-linejoin="round"/>
<circle cx="1696.7" cy="1038.4" r="9" fill="#2a9fe0" stroke="#fff" stroke-width="3"/>
<path transform="translate(1092,1039) rotate(0)" d="M6.5,0 L-5.5,-9.5 L-5.5,9.5 Z" fill="#2a9fe0" stroke="#fff" stroke-width="2.6" stroke-linejoin="round" paint-order="stroke"/>
<path transform="translate(1499,1039) rotate(0)" d="M6.5,0 L-5.5,-9.5 L-5.5,9.5 Z" fill="#2a9fe0" stroke="#fff" stroke-width="2.6" stroke-linejoin="round" paint-order="stroke"/>
<path d="M1300,1018 L1308,1010 L1316,1018" fill="none" stroke="#fff" stroke-width="11" stroke-linecap="round" stroke-linejoin="round"/>
<path d="M1300,1018 L1308,1010 L1316,1018" fill="none" stroke="#2a9fe0" stroke-width="5" stroke-linecap="round" stroke-linejoin="round"/>
<path d="M455,615 L473,615 L566.5,691.5" fill="none" stroke="#3a3a3a" stroke-width="1"/>
<path d="M852,614 L847,614 L820,702" fill="none" stroke="#3a3a3a" stroke-width="1"/>
<path d="M1200,649 L1272,649" fill="none" stroke="#3a3a3a" stroke-width="1"/>
<path d="M1086,708 L1101,757.5 L1111,757.5" fill="none" stroke="#3a3a3a" stroke-width="1"/>
<path d="M1383,710 L1383,782" fill="none" stroke="#3a3a3a" stroke-width="1"/>
<path d="M1629.3,647.5 L1629.3,676" fill="none" stroke="#3a3a3a" stroke-width="1"/>
<path d="M1907.6,637.7 L1941.8,637.7" fill="none" stroke="#3a3a3a" stroke-width="1"/>
<path d="M1284,441 L1284,558" fill="none" stroke="#3a3a3a" stroke-width="1"/>
<path d="M1345,452.5 L1331,452.5 L1308,576" fill="none" stroke="#3a3a3a" stroke-width="1"/>
<path d="M1497,130.5 L1657,130.5" fill="none" stroke="#3a3a3a" stroke-width="1"/>
<path d="M535,961 L555.8,961 L615.6,1032" fill="none" stroke="#3a3a3a" stroke-width="1"/>
<path d="M535,1019 L553.2,1019 L585.7,1042" fill="none" stroke="#3a3a3a" stroke-width="1"/>
<path d="M1109,1041 L1125.7,1087.5 L1135.6,1087.5" fill="none" stroke="#3a3a3a" stroke-width="1"/>
<path d="M1597,962.4 L1597,1035" fill="none" stroke="#3a3a3a" stroke-width="1"/>
<path d="M1308.3,991.3 L1383,991.3" fill="none" stroke="#3a3a3a" stroke-width="1"/>
<path d="M1570.8,1131.4 L1600,1131.4 L1686.6,1058" fill="none" stroke="#3a3a3a" stroke-width="1"/>
<path d="M1853,940.6 L1841.5,940.6 L1812,971.5" fill="none" stroke="#3a3a3a" stroke-width="1"/>
<g stroke="#000" stroke-width="2.2" stroke-linejoin="round"><text transform="translate(74.0,110.0) scale(1.095,1)" x="0" y="0" font-family="Liberation Serif" font-size="71" font-weight="700" text-anchor="start" fill="#000" >Sensory input,</text>
<text transform="translate(74.0,176.0) scale(1.095,1)" x="0" y="0" font-family="Liberation Serif" font-size="71" font-weight="700" text-anchor="start" fill="#000" >action output</text></g>
<text x="74" y="222.5" font-family="Liberation Serif" font-size="22.6" font-weight="700" fill="#111" textLength="531.2" lengthAdjust="spacingAndGlyphs" >The brain and spinal cord form the central nervous</text>
<text x="74" y="250.3" font-family="Liberation Serif" font-size="22.6" font-weight="700" fill="#111" textLength="549.6" lengthAdjust="spacingAndGlyphs" >system. They receive sensory input from all over the</text>
<text x="74" y="278.1" font-family="Liberation Serif" font-size="22.6" font-weight="700" fill="#111" textLength="541.0" lengthAdjust="spacingAndGlyphs" >body via a vast network of “sensory” nerve cells. In</text>
<text x="74" y="305.9" font-family="Liberation Serif" font-size="22.6" font-weight="700" fill="#111" textLength="531.2" lengthAdjust="spacingAndGlyphs" >response to the sensory information, the brain and</text>
<text x="74" y="333.7" font-family="Liberation Serif" font-size="22.6" font-weight="700" fill="#111" textLength="527.0" lengthAdjust="spacingAndGlyphs" >spinal cord send instructions down “motor” nerve</text>
<text x="74" y="361.5" font-family="Liberation Serif" font-size="22.6" font-weight="700" fill="#111" textLength="293.3" lengthAdjust="spacingAndGlyphs" >cells to control your actions.</text>
<g fill="#555"><rect x="73.8" y="398" width="96.8" height="9.5" rx="4.75"/><rect x="73.8" y="498" width="96.8" height="9.5" rx="4.75"/><path d="M85,405 C85,425 106,444 107.5,452.7 C106,461 85,480 85,500 M159.5,405 C159.5,425 138.5,444 137,452.7 C138.5,461 159.5,480 159.5,500" fill="none" stroke="#555" stroke-width="10" stroke-linejoin="round"/><path d="M108,423.5 L136.5,423.5 L125,448 Q122.5,454 120,448 Z"/><circle cx="122.7" cy="463.3" r="3.2"/><circle cx="115.8" cy="471.3" r="1.8"/></g>
<text x="184.7" y="416.9" font-family="Liberation Sans" font-size="25" font-weight="400" fill="#8e8e8e" textLength="375.9" lengthAdjust="spacingAndGlyphs">IT CAN TAKE YOUR BRAIN UP TO</text>
<text x="184.7" y="446.9" font-family="Liberation Sans" font-size="25" font-weight="700" fill="#525252" textLength="227.7" lengthAdjust="spacingAndGlyphs">400 MILLISECONDS</text>
<text x="424.2" y="446.9" font-family="Liberation Sans" font-size="25" font-weight="400" fill="#8e8e8e" textLength="28.0" lengthAdjust="spacingAndGlyphs">TO</text>
<text x="459.7" y="446.9" font-family="Liberation Sans" font-size="25" font-weight="700" fill="#525252" textLength="105.2" lengthAdjust="spacingAndGlyphs">PROCESS</text>
<text x="184.7" y="477.7" font-family="Liberation Sans" font-size="25" font-weight="700" fill="#525252" textLength="315.8" lengthAdjust="spacingAndGlyphs">INCOMING INFORMATION</text>
<text x="509.1" y="477.7" font-family="Liberation Sans" font-size="25" font-weight="400" fill="#8e8e8e" textLength="88.1" lengthAdjust="spacingAndGlyphs">BEFORE</text>
<text x="184.7" y="507.7" font-family="Liberation Sans" font-size="25" font-weight="400" fill="#8e8e8e" textLength="49.4" lengthAdjust="spacingAndGlyphs">YOU</text>
<text x="242.7" y="507.7" font-family="Liberation Sans" font-size="25" font-weight="700" fill="#525252" textLength="249.2" lengthAdjust="spacingAndGlyphs">BECOME CONSCIOUS</text>
<text x="498.3" y="507.7" font-family="Liberation Sans" font-size="25" font-weight="400" fill="#8e8e8e" textLength="58.1" lengthAdjust="spacingAndGlyphs">OF IT</text>
<path d="M674,107 L674,65 L948,65 L948,107 Z" fill="#d8689b"/>
<path d="M674,65 L948,65 L948,497 Q948,509 936,509 L686,509 Q674,509 674,497 Z" fill="none" stroke="#c7739b" stroke-width="3.5"/>
<text transform="translate(689.7,94.3) scale(0.950,1)" x="0" y="0" font-family="Liberation Sans" font-size="22" font-weight="700" text-anchor="start" fill="#1a0a10" stroke="#1a0a10" stroke-width="0.5">HOW FAST?</text>
<text x="688.8" y="136.4" font-family="Liberation Sans" font-size="15.2" font-weight="400" text-anchor="start" fill="#231f20" >Reflex reactions are much faster</text>
<text x="688.8" y="155.3" font-family="Liberation Sans" font-size="15.2" font-weight="400" text-anchor="start" fill="#231f20" >than reaction times routed via the</text>
<text x="688.8" y="174.2" font-family="Liberation Sans" font-size="15.2" font-weight="400" text-anchor="start" fill="#231f20" >brain. This is true of reactions to</text>
<text x="688.8" y="193.1" font-family="Liberation Sans" font-size="15.2" font-weight="400" text-anchor="start" fill="#231f20" >visual, hearing, or touch sensations.</text>
<rect x="757.5" y="212.0" width="177.5" height="50" fill="#f8e2b9"/>
<rect x="757.5" y="212.0" width="97.10000000000002" height="50" fill="#fbe7a6"/>
<rect x="758.20" y="212.0" width="1.4" height="50" fill="#e7a93c"/>
<rect x="761.92" y="212.0" width="1.4" height="50" fill="#e7a93c"/>
<rect x="765.64" y="212.0" width="1.4" height="50" fill="#e7a93c"/>
<rect x="769.36" y="212.0" width="1.4" height="50" fill="#e7a93c"/>
<rect x="773.08" y="212.0" width="1.4" height="50" fill="#e7a93c"/>
<rect x="776.80" y="212.0" width="1.4" height="50" fill="#e7a93c"/>
<rect x="780.52" y="212.0" width="1.4" height="50" fill="#e7a93c"/>
<rect x="784.24" y="212.0" width="1.4" height="50" fill="#e7a93c"/>
<rect x="787.96" y="212.0" width="1.4" height="50" fill="#e7a93c"/>
<rect x="791.68" y="212.0" width="1.4" height="50" fill="#e7a93c"/>
<rect x="795.40" y="212.0" width="1.4" height="50" fill="#e7a93c"/>
<rect x="799.12" y="212.0" width="1.4" height="50" fill="#e7a93c"/>
<rect x="802.84" y="212.0" width="1.4" height="50" fill="#e7a93c"/>
<rect x="806.56" y="212.0" width="1.4" height="50" fill="#e7a93c"/>
<rect x="810.28" y="212.0" width="1.4" height="50" fill="#e7a93c"/>
<rect x="814.00" y="212.0" width="1.4" height="50" fill="#e7a93c"/>
<rect x="817.72" y="212.0" width="1.4" height="50" fill="#e7a93c"/>
<rect x="821.44" y="212.0" width="1.4" height="50" fill="#e7a93c"/>
<rect x="825.16" y="212.0" width="1.4" height="50" fill="#e7a93c"/>
<rect x="828.88" y="212.0" width="1.4" height="50" fill="#e7a93c"/>
<rect x="832.60" y="212.0" width="1.4" height="50" fill="#e7a93c"/>
<rect x="836.32" y="212.0" width="1.4" height="50" fill="#e7a93c"/>
<rect x="840.04" y="212.0" width="1.4" height="50" fill="#e7a93c"/>
<rect x="843.76" y="212.0" width="1.4" height="50" fill="#e7a93c"/>
<rect x="847.48" y="212.0" width="1.4" height="50" fill="#e7a93c"/>
<rect x="851.20" y="212.0" width="1.4" height="50" fill="#e7a93c"/>
<text x="923.5" y="233.5" font-family="Liberation Sans" font-size="13" font-weight="700" text-anchor="end" fill="#111" >0.25</text>
<text x="923.5" y="250.0" font-family="Liberation Sans" font-size="13" font-weight="700" text-anchor="end" fill="#111" >SECONDS</text>
<text x="715.0" y="261.5" font-family="Liberation Sans" font-size="13.3" font-weight="700" text-anchor="middle" fill="#111" >VISUAL</text>
<rect x="757.5" y="287.5" width="177.5" height="50" fill="#d8d6ea"/>
<rect x="757.5" y="287.5" width="66.29999999999995" height="50" fill="#cfdaf2"/>
<rect x="758.20" y="287.5" width="1.4" height="50" fill="#4e77b5"/>
<rect x="761.92" y="287.5" width="1.4" height="50" fill="#4e77b5"/>
<rect x="765.64" y="287.5" width="1.4" height="50" fill="#4e77b5"/>
<rect x="769.36" y="287.5" width="1.4" height="50" fill="#4e77b5"/>
<rect x="773.08" y="287.5" width="1.4" height="50" fill="#4e77b5"/>
<rect x="776.80" y="287.5" width="1.4" height="50" fill="#4e77b5"/>
<rect x="780.52" y="287.5" width="1.4" height="50" fill="#4e77b5"/>
<rect x="784.24" y="287.5" width="1.4" height="50" fill="#4e77b5"/>
<rect x="787.96" y="287.5" width="1.4" height="50" fill="#4e77b5"/>
<rect x="791.68" y="287.5" width="1.4" height="50" fill="#4e77b5"/>
<rect x="795.40" y="287.5" width="1.4" height="50" fill="#4e77b5"/>
<rect x="799.12" y="287.5" width="1.4" height="50" fill="#4e77b5"/>
<rect x="802.84" y="287.5" width="1.4" height="50" fill="#4e77b5"/>
<rect x="806.56" y="287.5" width="1.4" height="50" fill="#4e77b5"/>
<rect x="810.28" y="287.5" width="1.4" height="50" fill="#4e77b5"/>
<rect x="814.00" y="287.5" width="1.4" height="50" fill="#4e77b5"/>
<rect x="817.72" y="287.5" width="1.4" height="50" fill="#4e77b5"/>
<rect x="821.44" y="287.5" width="1.4" height="50" fill="#4e77b5"/>
<text x="923.5" y="309.0" font-family="Liberation Sans" font-size="13" font-weight="700" text-anchor="end" fill="#111" >0.17</text>
<text x="923.5" y="325.5" font-family="Liberation Sans" font-size="13" font-weight="700" text-anchor="end" fill="#111" >SECONDS</text>
<text x="715.0" y="337.0" font-family="Liberation Sans" font-size="13.3" font-weight="700" text-anchor="middle" fill="#111" >AUDIO</text>
<rect x="757.5" y="363.0" width="177.5" height="50" fill="#eef2c8"/>
<rect x="757.5" y="363.0" width="59.5" height="50" fill="#f2f5b8"/>
<rect x="758.20" y="363.0" width="1.4" height="50" fill="#c5d64a"/>
<rect x="761.92" y="363.0" width="1.4" height="50" fill="#c5d64a"/>
<rect x="765.64" y="363.0" width="1.4" height="50" fill="#c5d64a"/>
<rect x="769.36" y="363.0" width="1.4" height="50" fill="#c5d64a"/>
<rect x="773.08" y="363.0" width="1.4" height="50" fill="#c5d64a"/>
<rect x="776.80" y="363.0" width="1.4" height="50" fill="#c5d64a"/>
<rect x="780.52" y="363.0" width="1.4" height="50" fill="#c5d64a"/>
<rect x="784.24" y="363.0" width="1.4" height="50" fill="#c5d64a"/>
<rect x="787.96" y="363.0" width="1.4" height="50" fill="#c5d64a"/>
<rect x="791.68" y="363.0" width="1.4" height="50" fill="#c5d64a"/>
<rect x="795.40" y="363.0" width="1.4" height="50" fill="#c5d64a"/>
<rect x="799.12" y="363.0" width="1.4" height="50" fill="#c5d64a"/>
<rect x="802.84" y="363.0" width="1.4" height="50" fill="#c5d64a"/>
<rect x="806.56" y="363.0" width="1.4" height="50" fill="#c5d64a"/>
<rect x="810.28" y="363.0" width="1.4" height="50" fill="#c5d64a"/>
<rect x="814.00" y="363.0" width="1.4" height="50" fill="#c5d64a"/>
<text x="923.5" y="384.5" font-family="Liberation Sans" font-size="13" font-weight="700" text-anchor="end" fill="#111" >0.15</text>
<text x="923.5" y="401.0" font-family="Liberation Sans" font-size="13" font-weight="700" text-anchor="end" fill="#111" >SECONDS</text>
<text x="715.0" y="412.5" font-family="Liberation Sans" font-size="13.3" font-weight="700" text-anchor="middle" fill="#111" >TOUCH</text>
<rect x="757.5" y="438.5" width="177.5" height="50" fill="#f2d3bb"/>
<rect x="757.5" y="438.5" width="4.5" height="50" fill="#f2d3bb"/>
<rect x="758.20" y="438.5" width="1.4" height="50" fill="#d2553c"/>
<rect x="761.92" y="438.5" width="1.4" height="50" fill="#d2553c"/>
<text x="923.5" y="460.0" font-family="Liberation Sans" font-size="13" font-weight="700" text-anchor="end" fill="#111" >0.005</text>
<text x="923.5" y="476.5" font-family="Liberation Sans" font-size="13" font-weight="700" text-anchor="end" fill="#111" >SECONDS</text>
<text x="715.0" y="488.0" font-family="Liberation Sans" font-size="13.3" font-weight="700" text-anchor="middle" fill="#111" >REFLEXES</text>
<path d="M688,228 Q715,200 742,228 Q715,256 688,228 Z" fill="#f5d08f"/><circle cx="715" cy="228" r="13" fill="#e9a83a"/>
<path d="M706,278 C718,272 728,285 726,300 C725,312 722,318 716,322 C710,325 704,318 700,305 C696,290 698,281 706,278 Z" fill="#8f89c4"/><path d="M707,284 C716,281 722,290 720,302 C719,310 714,314 710,312 L713,302 C716,296 714,292 709,294 C705,297 706,306 702,300 C700,292 702,286 707,284 Z" fill="#6d62a9"/>
<g fill="#bcd03c"><rect x="697.4" y="357" width="5" height="24" rx="2.5"/><rect x="704.8" y="352.5" width="5" height="26" rx="2.5"/><rect x="712.2" y="351.5" width="5" height="26" rx="2.5"/><rect x="719.6" y="353.5" width="5" height="26" rx="2.5"/><path d="M697.4,372 L724.6,372 L726.5,384 Q726,398 712,398 Q697.4,397 697.4,384 Z"/></g><path d="M723,388 L737,375.5" stroke="#bcd03c" stroke-width="5.5" stroke-linecap="round"/>
<g fill="none" stroke="#d2553c" stroke-linecap="round" stroke-linejoin="round"><path d="M705,433 C700,445 702,462 708,469 L731,444" stroke-width="9"/><path d="M733,443 L742,432 M734,444 L746,435 M735,446 L749,440 M735,448 L748,446 M732,442 L734,432" stroke-width="2.3"/></g><path d="M698,436 C700,427 708,424 714,427 C716,436 712,450 709,460 L700,455 Z" fill="#d2553c"/>
<text transform="translate(1790.5,44.3) scale(0.954,1)" x="0" y="0" font-family="Liberation Serif" font-size="17.7" font-weight="700" text-anchor="end" fill="#8c8c8c" >ON THE MOVE</text>
<text transform="translate(1790.5,62.5) scale(1.030,1)" x="0" y="0" font-family="Liberation Serif" font-size="17.7" font-weight="400" text-anchor="end" fill="#231f20" >Sensory input, action output</text>
<text transform="translate(1807.0,62.5) scale(0.900,1)" x="0" y="0" font-family="Liberation Sans" font-size="42" font-weight="400" text-anchor="start" fill="#111" stroke="#fff" stroke-width="1.3">60</text>
<text transform="translate(1857.0,62.5) scale(0.900,1)" x="0" y="0" font-family="Liberation Sans" font-size="42" font-weight="400" text-anchor="start" fill="#d0709a" stroke="#fff" stroke-width="1.3">/</text>
<text transform="translate(1878.0,62.5) scale(0.900,1)" x="0" y="0" font-family="Liberation Sans" font-size="42" font-weight="400" text-anchor="start" fill="#111" stroke="#fff" stroke-width="1.3">61</text>
<circle cx="1552.0" cy="78.4" r="1.7" fill="#d0709a"/>
<circle cx="1560.6" cy="78.4" r="1.7" fill="#d0709a"/>
<circle cx="1569.2" cy="78.4" r="1.7" fill="#d0709a"/>
<circle cx="1577.8" cy="78.4" r="1.7" fill="#d0709a"/>
<circle cx="1586.4" cy="78.4" r="1.7" fill="#d0709a"/>
<circle cx="1595.0" cy="78.4" r="1.7" fill="#d0709a"/>
<circle cx="1603.6" cy="78.4" r="1.7" fill="#d0709a"/>
<circle cx="1612.2" cy="78.4" r="1.7" fill="#d0709a"/>
<circle cx="1620.8" cy="78.4" r="1.7" fill="#d0709a"/>
<circle cx="1629.4" cy="78.4" r="1.7" fill="#d0709a"/>
<circle cx="1638.0" cy="78.4" r="1.7" fill="#d0709a"/>
<circle cx="1646.6" cy="78.4" r="1.7" fill="#d0709a"/>
<circle cx="1655.2" cy="78.4" r="1.7" fill="#d0709a"/>
<circle cx="1663.8" cy="78.4" r="1.7" fill="#d0709a"/>
<circle cx="1672.4" cy="78.4" r="1.7" fill="#d0709a"/>
<circle cx="1681.0" cy="78.4" r="1.7" fill="#d0709a"/>
<circle cx="1689.6" cy="78.4" r="1.7" fill="#d0709a"/>
<circle cx="1698.2" cy="78.4" r="1.7" fill="#d0709a"/>
<circle cx="1706.8" cy="78.4" r="1.7" fill="#d0709a"/>
<circle cx="1715.4" cy="78.4" r="1.7" fill="#d0709a"/>
<circle cx="1724.0" cy="78.4" r="1.7" fill="#d0709a"/>
<circle cx="1732.6" cy="78.4" r="1.7" fill="#d0709a"/>
<circle cx="1741.2" cy="78.4" r="1.7" fill="#d0709a"/>
<circle cx="1749.8" cy="78.4" r="1.7" fill="#d0709a"/>
<circle cx="1758.4" cy="78.4" r="1.7" fill="#d0709a"/>
<circle cx="1767.0" cy="78.4" r="1.7" fill="#d0709a"/>
<circle cx="1775.6" cy="78.4" r="1.7" fill="#d0709a"/>
<circle cx="1784.2" cy="78.4" r="1.7" fill="#d0709a"/>
<circle cx="1792.8" cy="78.4" r="1.7" fill="#d0709a"/>
<circle cx="1801.4" cy="78.4" r="1.7" fill="#d0709a"/>
<circle cx="1810.0" cy="78.4" r="1.7" fill="#d0709a"/>
<circle cx="1818.6" cy="78.4" r="1.7" fill="#d0709a"/>
<circle cx="1827.2" cy="78.4" r="1.7" fill="#d0709a"/>
<circle cx="1835.8" cy="78.4" r="1.7" fill="#d0709a"/>
<circle cx="1844.4" cy="78.4" r="1.7" fill="#d0709a"/>
<circle cx="1853.0" cy="78.4" r="1.7" fill="#d0709a"/>
<circle cx="1861.6" cy="78.4" r="1.7" fill="#d0709a"/>
<circle cx="1870.2" cy="78.4" r="1.7" fill="#d0709a"/>
<circle cx="1878.8" cy="78.4" r="1.7" fill="#d0709a"/>
<circle cx="1887.4" cy="78.4" r="1.7" fill="#d0709a"/>
<circle cx="1896.0" cy="78.4" r="1.7" fill="#d0709a"/>
<circle cx="1904.6" cy="78.4" r="1.7" fill="#d0709a"/>
<circle cx="1913.2" cy="78.4" r="1.7" fill="#d0709a"/>
<circle cx="1921.8" cy="78.4" r="1.7" fill="#d0709a"/>
<circle cx="1930.4" cy="78.4" r="1.7" fill="#d0709a"/>
<circle cx="1939.0" cy="78.4" r="1.7" fill="#d0709a"/>
<circle cx="1947.6" cy="78.4" r="1.7" fill="#d0709a"/>
<rect x="1957" y="0" width="91" height="191.3" fill="#f7e1eb"/>
<g fill="#d6689b"><path d="M1977,47 C1977,32 1988,26 2001,26 C2016,26 2027,36 2027,51 C2027,62 2020,70 2015,77 L2015,88 L1988,88 L1988,77 C1983,77 1977,74 1976,71 L1975,66 C1972,65 1970,63 1972,61 L1976,55 Z"/><path d="M1957,166 L1957,101 C1965,92 1980,87 1988,87 L2015,87 C2030,88 2045,94 2048,98 L2048,166 Z"/><rect x="1957" y="170.5" width="91" height="20.8"/></g>
<g fill="#f7e1eb"><path d="M1978,103 C1985,99 1996,100 2000,104 L2000,124 C1992,127 1983,124 1979,118 C1975,112 1975,106 1978,103 Z M2025,103 C2018,99 2007,100 2003,104 L2003,124 C2011,127 2020,124 2024,118 C2028,112 2028,106 2025,103 Z"/><path d="M1982,128 L2000,128 L2000,164 L1990,164 C1986,155 1983,140 1982,128 Z M2021,128 L2003,128 L2003,164 L2013,164 C2017,155 2020,140 2021,128 Z"/></g>
<path d="M1988,137 L2015,137 M1988,146 L2015,146 M1989,155 L2014,155" stroke="#d6689b" stroke-width="1.6"/>
<text x="1665.7" y="129.0" font-family="Liberation Sans" font-size="12.3" font-weight="400" text-anchor="start" fill="#231f20" >Signal travels to the area of the</text>
<text x="1665.7" y="143.8" font-family="Liberation Sans" font-size="12.3" font-weight="400" text-anchor="start" fill="#231f20" >brain responsible for voluntary</text>
<text x="1665.7" y="158.6" font-family="Liberation Sans" font-size="12.3" font-weight="400" text-anchor="start" fill="#231f20" >movement, which helps us to</text>
<text x="1665.7" y="173.4" font-family="Liberation Sans" font-size="12.3" font-weight="400" text-anchor="start" fill="#231f20" >decide what action to take</text>
<circle cx="1821.5" cy="350.8" r="159.5" fill="#6aa65a"/>
<circle cx="1821.5" cy="353.7" r="155.5" fill="#fff"/>
<circle cx="1821.5" cy="355.7" r="152" fill="#dedfe1"/>
<g stroke="#111" stroke-width="0.7"><text transform="translate(1822.0,242.0) scale(0.950,1)" x="0" y="0" font-family="Liberation Sans" font-size="17.2" font-weight="700" text-anchor="middle" fill="#111" >WHY DOES</text>
<text transform="translate(1822.0,265.7) scale(0.950,1)" x="0" y="0" font-family="Liberation Sans" font-size="17.2" font-weight="700" text-anchor="middle" fill="#111" >ALCOHOL AFFECT</text>
<text transform="translate(1822.0,289.4) scale(0.950,1)" x="0" y="0" font-family="Liberation Sans" font-size="17.2" font-weight="700" text-anchor="middle" fill="#111" >REACTIONS?</text></g>
<text x="1822.0" y="325.0" font-family="Liberation Sans" font-size="19.4" font-weight="400" text-anchor="middle" fill="#111" stroke="#111" stroke-width="0.45" >Alcohol can affect reaction</text>
<text x="1822.0" y="350.8" font-family="Liberation Sans" font-size="19.4" font-weight="400" text-anchor="middle" fill="#111" stroke="#111" stroke-width="0.45" >times as it has a general</text>
<text x="1822.0" y="376.6" font-family="Liberation Sans" font-size="19.4" font-weight="400" text-anchor="middle" fill="#111" stroke="#111" stroke-width="0.45" >anaesthetic effect, which</text>
<text x="1822.0" y="402.4" font-family="Liberation Sans" font-size="19.4" font-weight="400" text-anchor="middle" fill="#111" stroke="#111" stroke-width="0.45" >slows down brain responses</text>
<text x="1822.0" y="428.2" font-family="Liberation Sans" font-size="19.4" font-weight="400" text-anchor="middle" fill="#111" stroke="#111" stroke-width="0.45" >and interferes with</text>
<text x="1822.0" y="454.0" font-family="Liberation Sans" font-size="19.4" font-weight="400" text-anchor="middle" fill="#111" stroke="#111" stroke-width="0.45" >coordination.</text>
<text transform="translate(666.5,564.3) scale(0.810,1)" x="0" y="0" font-family="Liberation Sans" font-size="20" font-weight="700" text-anchor="middle" fill="#111" stroke="#111" stroke-width="0.6">INPUT (SENSORY NERVES)</text>
<text transform="translate(1748.0,564.0) scale(0.830,1)" x="0" y="0" font-family="Liberation Sans" font-size="20" font-weight="700" text-anchor="middle" fill="#111" stroke="#111" stroke-width="0.6">OUTPUT (MOTOR NERVES)</text>
<text x="74" y="617.9" font-family="Liberation Serif" font-size="23" font-weight="700" fill="#111" textLength="212.5" lengthAdjust="spacingAndGlyphs" stroke="#111" stroke-width="0.9">Consulting the brain</text>
<text x="74" y="640.7" font-family="Liberation Serif" font-size="19.5" font-weight="400" fill="#231f20" textLength="257.8" lengthAdjust="spacingAndGlyphs" >If a movement requires conscious</text>
<text x="74" y="662.9" font-family="Liberation Serif" font-size="19.5" font-weight="400" fill="#231f20" textLength="293.4" lengthAdjust="spacingAndGlyphs" >thought, such as listening for a starter</text>
<text x="74" y="685.1" font-family="Liberation Serif" font-size="19.5" font-weight="400" fill="#231f20" textLength="289.9" lengthAdjust="spacingAndGlyphs" >gun, the sensory signal travels up the</text>
<text x="74" y="707.3" font-family="Liberation Serif" font-size="19.5" font-weight="400" fill="#231f20" textLength="290.7" lengthAdjust="spacingAndGlyphs" >spinal cord to the brain for processing</text>
<text x="74" y="729.5" font-family="Liberation Serif" font-size="19.5" font-weight="400" fill="#231f20" textLength="267.9" lengthAdjust="spacingAndGlyphs" >before the body takes action. Some</text>
<text x="74" y="751.7" font-family="Liberation Serif" font-size="19.5" font-weight="400" fill="#231f20" textLength="274.0" lengthAdjust="spacingAndGlyphs" >conscious actions become relatively</text>
<text x="74" y="773.9" font-family="Liberation Serif" font-size="19.5" font-weight="400" fill="#231f20" textLength="245.5" lengthAdjust="spacingAndGlyphs" >automatic and are performed on</text>
<text x="69" y="796.1" font-family="Liberation Serif" font-size="19.5" font-weight="400" fill="#231f20" textLength="283.4" lengthAdjust="spacingAndGlyphs" >“autopilot”, without thinking. In fact,</text>
<text x="74" y="818.3" font-family="Liberation Serif" font-size="19.5" font-weight="400" fill="#231f20" textLength="303.9" lengthAdjust="spacingAndGlyphs" >most nerve signals sent to and from the</text>
<text x="74" y="840.5" font-family="Liberation Serif" font-size="19.5" font-weight="400" fill="#231f20" textLength="303.9" lengthAdjust="spacingAndGlyphs" >brain, just to keep the body functioning</text>
<text x="74" y="862.7" font-family="Liberation Serif" font-size="19.5" font-weight="400" fill="#231f20" textLength="238.0" lengthAdjust="spacingAndGlyphs" >properly, occur subconsciously.</text>
<text x="557.5" y="813.4" font-family="Liberation Sans" font-size="13.65" font-weight="700" text-anchor="middle" fill="#111" >Expecting the signal</text>
<text x="557.5" y="831.0" font-family="Liberation Sans" font-size="13.8" font-weight="400" text-anchor="middle" fill="#231f20" >A sprinter is poised at the start</text>
<text x="557.5" y="847.5" font-family="Liberation Sans" font-size="13.8" font-weight="400" text-anchor="middle" fill="#231f20" >line, waiting for the gunshot</text>
<text x="557.5" y="864.0" font-family="Liberation Sans" font-size="13.8" font-weight="400" text-anchor="middle" fill="#231f20" >to start running.</text>
<text x="760.0" y="813.4" font-family="Liberation Sans" font-size="13.65" font-weight="700" text-anchor="middle" fill="#111" >Audio cue</text>
<text x="760.0" y="831.0" font-family="Liberation Sans" font-size="13.8" font-weight="400" text-anchor="middle" fill="#231f20" >The starter gun sounds. Audio</text>
<text x="760.0" y="847.5" font-family="Liberation Sans" font-size="13.8" font-weight="400" text-anchor="middle" fill="#231f20" >waves reach the ear, which sends</text>
<text x="760.0" y="864.0" font-family="Liberation Sans" font-size="13.8" font-weight="400" text-anchor="middle" fill="#231f20" >sensory messages to the brain.</text>
<text x="1654.3" y="812.9" font-family="Liberation Sans" font-size="13.65" font-weight="700" text-anchor="middle" fill="#111" >Message received</text>
<text x="1654.3" y="829.5" font-family="Liberation Sans" font-size="13.8" font-weight="400" text-anchor="middle" fill="#231f20" >The motor nervous signals</text>
<text x="1654.3" y="846.1" font-family="Liberation Sans" font-size="13.8" font-weight="400" text-anchor="middle" fill="#231f20" >received in muscle cells</text>
<text x="1654.3" y="862.7" font-family="Liberation Sans" font-size="13.8" font-weight="400" text-anchor="middle" fill="#231f20" >trigger a movement response.</text>
<text x="1863.0" y="812.9" font-family="Liberation Sans" font-size="13.65" font-weight="700" text-anchor="middle" fill="#111" >Conscious action</text>
<text x="1863.0" y="829.5" font-family="Liberation Sans" font-size="13.8" font-weight="400" text-anchor="middle" fill="#231f20" >With instructions from the brain, the</text>
<text x="1863.0" y="846.1" font-family="Liberation Sans" font-size="13.8" font-weight="400" text-anchor="middle" fill="#231f20" >muscles move in a coordinated</text>
<text x="1863.0" y="862.7" font-family="Liberation Sans" font-size="13.8" font-weight="400" text-anchor="middle" fill="#231f20" >fashion and sprinting starts.</text>
<text x="452.0" y="613.5" font-family="Liberation Sans" font-size="12.75" font-weight="400" text-anchor="end" fill="#231f20" >Sprinter in</text>
<text x="452.0" y="627.7" font-family="Liberation Sans" font-size="12.75" font-weight="400" text-anchor="end" fill="#231f20" >position</text>
<text x="857.5" y="614.7" font-family="Liberation Sans" font-size="12.75" font-weight="400" text-anchor="start" fill="#231f20" >Ear interprets</text>
<text x="857.5" y="629.2" font-family="Liberation Sans" font-size="12.75" font-weight="400" text-anchor="start" fill="#231f20" >gunshot as an</text>
<text x="857.5" y="643.7" font-family="Liberation Sans" font-size="12.75" font-weight="400" text-anchor="start" fill="#231f20" >audio signal</text>
<text x="1192.0" y="618.8" font-family="Liberation Sans" font-size="12.75" font-weight="400" text-anchor="end" fill="#231f20" >Nerve signal</text>
<text x="1192.0" y="633.5" font-family="Liberation Sans" font-size="12.75" font-weight="400" text-anchor="end" fill="#231f20" >travels up spinal</text>
<text x="1192.0" y="648.2" font-family="Liberation Sans" font-size="12.75" font-weight="400" text-anchor="end" fill="#231f20" >cord to the brain</text>
<text x="1117.6" y="758.2" font-family="Liberation Sans" font-size="12.75" font-weight="400" text-anchor="start" fill="#231f20" >Sensory nerve</text>
<text x="1117.6" y="772.8" font-family="Liberation Sans" font-size="12.75" font-weight="400" text-anchor="start" fill="#231f20" >carries signal</text>
<text x="1117.6" y="787.4" font-family="Liberation Sans" font-size="12.75" font-weight="400" text-anchor="start" fill="#231f20" >from ear</text>
<text x="1391.7" y="780.4" font-family="Liberation Sans" font-size="12.75" font-weight="400" text-anchor="start" fill="#231f20" >Motor nerve</text>
<text x="1391.7" y="795.3" font-family="Liberation Sans" font-size="12.75" font-weight="400" text-anchor="start" fill="#231f20" >carries signal</text>
<text x="1391.7" y="810.2" font-family="Liberation Sans" font-size="12.75" font-weight="400" text-anchor="start" fill="#231f20" >from brain</text>
<text x="1636.2" y="617.5" font-family="Liberation Sans" font-size="12.75" font-weight="400" text-anchor="start" fill="#231f20" >Muscles</text>
<text x="1636.2" y="632.1" font-family="Liberation Sans" font-size="12.75" font-weight="400" text-anchor="start" fill="#231f20" >commanded to</text>
<text x="1636.2" y="646.7" font-family="Liberation Sans" font-size="12.75" font-weight="400" text-anchor="start" fill="#231f20" >move by signals</text>
<text x="1949.7" y="623.7" font-family="Liberation Sans" font-size="12.75" font-weight="400" text-anchor="start" fill="#231f20" >Sprinter</text>
<text x="1949.7" y="637.4" font-family="Liberation Sans" font-size="12.75" font-weight="400" text-anchor="start" fill="#231f20" >sets off</text>
<text x="1274.4" y="378.0" font-family="Liberation Sans" font-size="12.75" font-weight="400" text-anchor="end" fill="#2b1014" >The medulla</text>
<text x="1274.4" y="392.7" font-family="Liberation Sans" font-size="12.75" font-weight="400" text-anchor="end" fill="#2b1014" >is one part of</text>
<text x="1274.4" y="407.4" font-family="Liberation Sans" font-size="12.75" font-weight="400" text-anchor="end" fill="#2b1014" >the brainstem</text>
<text x="1274.4" y="422.1" font-family="Liberation Sans" font-size="12.75" font-weight="400" text-anchor="end" fill="#2b1014" >that controls</text>
<text x="1274.4" y="436.8" font-family="Liberation Sans" font-size="12.75" font-weight="400" text-anchor="end" fill="#2b1014" >movement</text>
<text x="1348.0" y="376.7" font-family="Liberation Sans" font-size="12.75" font-weight="400" text-anchor="start" fill="#2b1014" >Signals can</text>
<text x="1348.0" y="391.3" font-family="Liberation Sans" font-size="12.75" font-weight="400" text-anchor="start" fill="#2b1014" >get as far as</text>
<text x="1348.0" y="405.8" font-family="Liberation Sans" font-size="12.75" font-weight="400" text-anchor="start" fill="#2b1014" >the medulla</text>
<text x="1348.0" y="420.4" font-family="Liberation Sans" font-size="12.75" font-weight="400" text-anchor="start" fill="#2b1014" >without you</text>
<text x="1348.0" y="434.9" font-family="Liberation Sans" font-size="12.75" font-weight="400" text-anchor="start" fill="#2b1014" >being aware</text>
<text x="1348.0" y="449.5" font-family="Liberation Sans" font-size="12.75" font-weight="400" text-anchor="start" fill="#2b1014" >of them</text>
<path id="cnsarc" d="M1159.9,359.5 A171,171 0 0 1 1456.1,359.5" fill="none"/>
<text font-family="Liberation Sans" font-size="17" font-weight="700" fill="#111" stroke="#111" stroke-width="0.4"><textPath href="#cnsarc" startOffset="50%" text-anchor="middle" textLength="241" lengthAdjust="spacingAndGlyphs">CENTRAL NERVOUS SYSTEM</textPath></text>
<text x="1308.0" y="321.7" font-family="Liberation Sans" font-size="13.3" font-weight="700" text-anchor="middle" fill="#111" >BRAIN</text>
<text transform="translate(1298.5,607) rotate(-90)" font-family="Liberation Sans" font-size="14.5" font-weight="700" text-anchor="middle" fill="#111">MEDULLA</text>
<text transform="translate(1283,871) rotate(-90)" font-family="Liberation Sans" font-size="14.5" font-weight="700" text-anchor="middle" fill="#111">SPINAL CORD</text>
<text x="74" y="947.0" font-family="Liberation Serif" font-size="23" font-weight="700" fill="#111" textLength="172.1" lengthAdjust="spacingAndGlyphs" stroke="#111" stroke-width="0.9">Taking the brain</text>
<text x="74" y="969.0" font-family="Liberation Serif" font-size="23" font-weight="700" fill="#111" textLength="147.9" lengthAdjust="spacingAndGlyphs" stroke="#111" stroke-width="0.9">out of the loop</text>
<text x="74" y="992.0" font-family="Liberation Serif" font-size="19.05" font-weight="400" fill="#231f20" textLength="278.9" lengthAdjust="spacingAndGlyphs" >Survival sometimes requires instant</text>
<text x="74" y="1014.2" font-family="Liberation Serif" font-size="19.05" font-weight="400" fill="#231f20" textLength="281.1" lengthAdjust="spacingAndGlyphs" >responses that bypass the brain and</text>
<text x="74" y="1036.5" font-family="Liberation Serif" font-size="19.05" font-weight="400" fill="#231f20" textLength="281.1" lengthAdjust="spacingAndGlyphs" >happen as automatic reflexes. Reflex</text>
<text x="74" y="1058.8" font-family="Liberation Serif" font-size="19.05" font-weight="400" fill="#231f20" textLength="267.5" lengthAdjust="spacingAndGlyphs" >pathways are routed via the spinal</text>
<text x="74" y="1081.0" font-family="Liberation Serif" font-size="19.05" font-weight="400" fill="#231f20" textLength="269.6" lengthAdjust="spacingAndGlyphs" >cord to avoid the delays that would</text>
<text x="74" y="1103.2" font-family="Liberation Serif" font-size="19.05" font-weight="400" fill="#231f20" textLength="262.2" lengthAdjust="spacingAndGlyphs" >occur if the messages travelled via</text>
<text x="74" y="1125.5" font-family="Liberation Serif" font-size="19.05" font-weight="400" fill="#231f20" textLength="254.3" lengthAdjust="spacingAndGlyphs" >the brain. When a reflex action is</text>
<text x="74" y="1147.8" font-family="Liberation Serif" font-size="19.05" font-weight="400" fill="#231f20" textLength="219.6" lengthAdjust="spacingAndGlyphs" >performed, the brain may be</text>
<text x="74" y="1170.0" font-family="Liberation Serif" font-size="19.05" font-weight="400" fill="#231f20" textLength="228.3" lengthAdjust="spacingAndGlyphs" >informed straight afterwards.</text>
<text x="424.0" y="1090.0" font-family="Liberation Sans" font-size="13.4" font-weight="700" text-anchor="start" fill="#111" >Sudden signals</text>
<text x="424.0" y="1107.5" font-family="Liberation Sans" font-size="13.2" font-weight="400" text-anchor="start" fill="#231f20" >When your finger</text>
<text x="424.0" y="1124.0" font-family="Liberation Sans" font-size="13.2" font-weight="400" text-anchor="start" fill="#231f20" >accidentally touches a</text>
<text x="424.0" y="1140.5" font-family="Liberation Sans" font-size="13.2" font-weight="400" text-anchor="start" fill="#231f20" >flame, a pain message is</text>
<text x="424.0" y="1157.0" font-family="Liberation Sans" font-size="13.2" font-weight="400" text-anchor="start" fill="#231f20" >sent via a sensory nerve</text>
<text x="424.0" y="1173.5" font-family="Liberation Sans" font-size="13.2" font-weight="400" text-anchor="start" fill="#231f20" >to the spinal cord.</text>
<text x="527.3" y="946.2" font-family="Liberation Sans" font-size="12.75" font-weight="400" text-anchor="end" fill="#231f20" >Pain signalled</text>
<text x="527.3" y="961.2" font-family="Liberation Sans" font-size="12.75" font-weight="400" text-anchor="end" fill="#231f20" >by finger</text>
<text x="527.3" y="1005.0" font-family="Liberation Sans" font-size="12.75" font-weight="400" text-anchor="end" fill="#231f20" >Hot flame</text>
<text x="527.3" y="1019.6" font-family="Liberation Sans" font-size="12.75" font-weight="400" text-anchor="end" fill="#231f20" >burns skin</text>
<text x="1142.3" y="1085.9" font-family="Liberation Sans" font-size="12.75" font-weight="400" text-anchor="start" fill="#231f20" >Sensory nerve</text>
<text x="1142.3" y="1100.9" font-family="Liberation Sans" font-size="12.75" font-weight="400" text-anchor="start" fill="#231f20" >carries signal</text>
<text x="1142.3" y="1115.8" font-family="Liberation Sans" font-size="12.75" font-weight="400" text-anchor="start" fill="#231f20" >from finger</text>
<text x="1592.0" y="925.2" font-family="Liberation Sans" font-size="12.55" font-weight="400" text-anchor="end" fill="#231f20" >Nervous signal travels directly from</text>
<text x="1592.0" y="940.2" font-family="Liberation Sans" font-size="12.55" font-weight="400" text-anchor="end" fill="#231f20" >the spinal cord down the motor</text>
<text x="1592.0" y="955.2" font-family="Liberation Sans" font-size="12.55" font-weight="400" text-anchor="end" fill="#231f20" >nerve – it does not travel via the brain</text>
<text x="1389.0" y="990.5" font-family="Liberation Sans" font-size="12.55" font-weight="400" text-anchor="start" fill="#231f20" >Pain signal travels up spinal cord</text>
<text x="1389.0" y="1004.8" font-family="Liberation Sans" font-size="12.55" font-weight="400" text-anchor="start" fill="#231f20" >to brain, but only after reaction</text>
<text x="1563.3" y="1115.7" font-family="Liberation Sans" font-size="12.55" font-weight="400" text-anchor="end" fill="#231f20" >Nervous signal induces</text>
<text x="1563.3" y="1130.4" font-family="Liberation Sans" font-size="12.55" font-weight="400" text-anchor="end" fill="#231f20" >automatic reaction</text>
<text x="1861.0" y="938.9" font-family="Liberation Sans" font-size="12.55" font-weight="400" text-anchor="start" fill="#231f20" >Hand moves away</text>
<text x="1861.0" y="953.6" font-family="Liberation Sans" font-size="12.55" font-weight="400" text-anchor="start" fill="#231f20" >from flame</text>
<text x="1866.0" y="1002.5" font-family="Liberation Sans" font-size="13.4" font-weight="700" text-anchor="start" fill="#111" >Quick as a flash</text>
<text x="1866.0" y="1018.8" font-family="Liberation Sans" font-size="14" font-weight="400" text-anchor="start" fill="#231f20" >The pain-response</text>
<text x="1866.0" y="1035.5" font-family="Liberation Sans" font-size="14" font-weight="400" text-anchor="start" fill="#231f20" >messages travel via</text>
<text x="1866.0" y="1052.2" font-family="Liberation Sans" font-size="14" font-weight="400" text-anchor="start" fill="#231f20" >a short reflex route</text>
<text x="1866.0" y="1068.8" font-family="Liberation Sans" font-size="14" font-weight="400" text-anchor="start" fill="#231f20" >through the spinal</text>
<text x="1866.0" y="1085.5" font-family="Liberation Sans" font-size="14" font-weight="400" text-anchor="start" fill="#231f20" >cord. This causes</text>
<text x="1866.0" y="1102.2" font-family="Liberation Sans" font-size="14" font-weight="400" text-anchor="start" fill="#231f20" >your finger to move</text>
<text x="1866.0" y="1118.9" font-family="Liberation Sans" font-size="14" font-weight="400" text-anchor="start" fill="#231f20" >milliseconds before</text>
<text x="1866.0" y="1135.6" font-family="Liberation Sans" font-size="14" font-weight="400" text-anchor="start" fill="#231f20" >the pain signal</text>
<text x="1866.0" y="1152.2" font-family="Liberation Sans" font-size="14" font-weight="400" text-anchor="start" fill="#231f20" >travels up to reach</text>
<text x="1866.0" y="1168.9" font-family="Liberation Sans" font-size="14" font-weight="400" text-anchor="start" fill="#231f20" >your brain.</text></svg></body></html>
